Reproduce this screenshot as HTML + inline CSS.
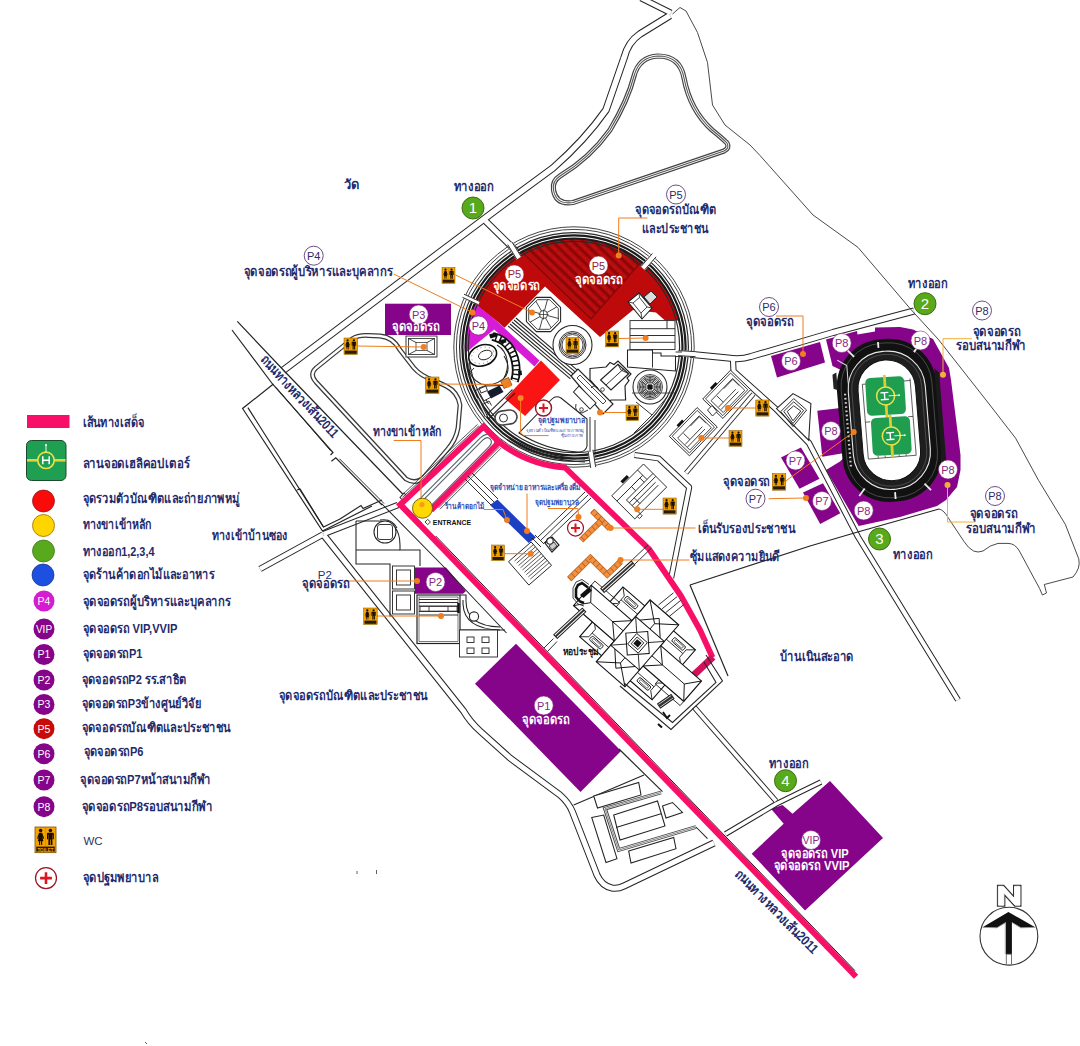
<!DOCTYPE html>
<html lang="th"><head><meta charset="utf-8"><title>Map</title><style>html,body{margin:0;padding:0;background:#fff;}body{width:1080px;height:1046px;overflow:hidden;font-family:"Liberation Sans",sans-serif;}svg{display:block;}</style></head><body>
<svg width="1080" height="1046" viewBox="0 0 1080 1046" font-family="'Liberation Sans', sans-serif"><g id="fill">
<rect x="27" y="415" width="42.5" height="13" fill="#f80f68"/>
<polygon points="475.0,683.7 516.0,643.7 621.0,751.0 580.5,792.0" fill="#86048a" stroke="none" stroke-width="1"/>
<polygon points="751.7,853.7 783.7,823.7 771.0,808.7 782.5,805.0 792.5,813.7 830.0,781.0 883.0,838.0 805.0,910.5" fill="#86048a" stroke="none" stroke-width="1"/>
<rect x="385" y="303.7" width="66" height="31.3" fill="#86048a"/>
<polygon points="415.0,567.5 446.0,567.5 466.0,591.0 463.0,593.7 415.0,593.7" fill="#86048a" stroke="none" stroke-width="1"/>
<polygon points="771.0,356.0 820.0,342.0 825.0,362.5 777.0,377.5" fill="#86048a" stroke="none" stroke-width="1"/>
<polygon points="781.0,457.5 801.0,447.5 819.5,478.7 799.5,488.7" fill="#86048a" stroke="none" stroke-width="1"/>
<polygon points="803.0,492.5 823.0,483.2 840.3,513.3 820.2,524.0" fill="#86048a" stroke="none" stroke-width="1"/>
<polygon points="817.3,410.8 840.3,407.9 844.6,453.1 822.3,456.7" fill="#86048a" stroke="none" stroke-width="1"/>
<circle cx="574.0" cy="347.0" r="121" fill="#fff"/>
<clipPath id="cin"><circle cx="574.0" cy="347.0" r="108.0"/></clipPath>
<g clip-path="url(#cin)">
<polygon points="440.0,200.0 472.0,302.0 497.0,321.3 504.5,327.8 545.0,286.5 600.0,337.0 633.0,310.0 656.0,312.5 665.0,320.6 720.0,320.6 720.0,200.0" fill="#bf0a0c" stroke="none" stroke-width="1"/>
<polygon points="522.0,252.0 591.0,319.0 641.0,262.0 620.0,200.0 522.0,200.0" fill="#b50c0e" stroke="none" stroke-width="1"/>
<clipPath id="cfan"><polygon points="522.0,252.0 591.0,319.0 641.0,262.0 620.0,200.0 522.0,200.0"/></clipPath><g clip-path="url(#cfan)">
<polyline points="504.9,225.5 604.9,322.5" fill="none" stroke="#8e0708" stroke-width="2.8"/>
<polyline points="507.3,223.1 607.3,320.1" fill="none" stroke="#c91719" stroke-width="0.9" stroke-dasharray="5 2"/>
<polyline points="509.9,220.3 609.9,317.3" fill="none" stroke="#8e0708" stroke-width="2.8"/>
<polyline points="512.3,217.9 612.3,314.9" fill="none" stroke="#c91719" stroke-width="0.9" stroke-dasharray="5 2"/>
<polyline points="514.9,215.2 614.9,312.2" fill="none" stroke="#8e0708" stroke-width="2.8"/>
<polyline points="517.3,212.8 617.3,309.8" fill="none" stroke="#c91719" stroke-width="0.9" stroke-dasharray="5 2"/>
<polyline points="519.9,210.0 619.9,307.0" fill="none" stroke="#8e0708" stroke-width="2.8"/>
<polyline points="522.3,207.6 622.3,304.6" fill="none" stroke="#c91719" stroke-width="0.9" stroke-dasharray="5 2"/>
<polyline points="525.0,204.8 625.0,301.8" fill="none" stroke="#8e0708" stroke-width="2.8"/>
<polyline points="527.4,202.4 627.4,299.4" fill="none" stroke="#c91719" stroke-width="0.9" stroke-dasharray="5 2"/>
<polyline points="530.0,199.7 630.0,296.7" fill="none" stroke="#8e0708" stroke-width="2.8"/>
<polyline points="532.4,197.3 632.4,294.3" fill="none" stroke="#c91719" stroke-width="0.9" stroke-dasharray="5 2"/>
<polyline points="535.0,194.5 635.0,291.5" fill="none" stroke="#8e0708" stroke-width="2.8"/>
<polyline points="537.4,192.1 637.4,289.1" fill="none" stroke="#c91719" stroke-width="0.9" stroke-dasharray="5 2"/>
<polyline points="540.0,189.3 640.0,286.3" fill="none" stroke="#8e0708" stroke-width="2.8"/>
<polyline points="542.4,186.9 642.4,283.9" fill="none" stroke="#c91719" stroke-width="0.9" stroke-dasharray="5 2"/>
<polyline points="545.0,184.2 645.0,281.2" fill="none" stroke="#8e0708" stroke-width="2.8"/>
<polyline points="547.4,181.8 647.4,278.8" fill="none" stroke="#c91719" stroke-width="0.9" stroke-dasharray="5 2"/>
<polyline points="550.0,179.0 650.0,276.0" fill="none" stroke="#8e0708" stroke-width="2.8"/>
<polyline points="552.4,176.6 652.4,273.6" fill="none" stroke="#c91719" stroke-width="0.9" stroke-dasharray="5 2"/>
<polyline points="555.1,173.9 655.1,270.9" fill="none" stroke="#8e0708" stroke-width="2.8"/>
<polyline points="557.5,171.5 657.5,268.5" fill="none" stroke="#c91719" stroke-width="0.9" stroke-dasharray="5 2"/>
<polyline points="560.1,168.7 660.1,265.7" fill="none" stroke="#8e0708" stroke-width="2.8"/>
<polyline points="562.5,166.3 662.5,263.3" fill="none" stroke="#c91719" stroke-width="0.9" stroke-dasharray="5 2"/>
<polyline points="565.1,163.5 665.1,260.5" fill="none" stroke="#8e0708" stroke-width="2.8"/>
<polyline points="567.5,161.1 667.5,258.1" fill="none" stroke="#c91719" stroke-width="0.9" stroke-dasharray="5 2"/>
</g>
<polyline points="522.0,252.0 591.0,319.0 641.0,262.0" fill="none" stroke="#8a0808" stroke-width="1.4"/>
</g>
<path d="M475.2 303.4 L497 321.3 L539.5 360.5 L534.5 366.5 L494.2 329.6 L466.1 352.4 A108.0 108.0 0 0 1 475.2 303.4 Z" fill="#d61cd6" stroke="none" stroke-width="0"/>
<polygon points="541.0,360.6 560.0,380.0 525.0,416.0 505.0,398.7" fill="#fb1414" stroke="none" stroke-width="1"/>
<polygon points="826.0,339.5 857.0,331.0 857.5,334.5 875.0,331.5 875.0,327.5 900.0,327.0 913.0,329.5 933.0,339.0 949.0,368.0 951.0,380.0 960.5,455.0 960.5,470.0 957.0,487.0 946.0,500.0 937.0,506.0 900.0,517.0 858.7,526.0 826.0,470.0 840.0,461.5 862.0,440.0 862.0,380.0 832.5,366.0" fill="#86048a" stroke="none" stroke-width="1"/>
</g>
<g id="road_o">
<path d="M283 370.5 L440 252 L500 207 L553 168 Q585 140 606 110 L624 58 Q628 42 640 34 L670 15.5" fill="none" stroke="#242424" stroke-width="7.5" stroke-linejoin="round"/>
<path d="M641 -2 L671 13" fill="none" stroke="#242424" stroke-width="6.5" stroke-linejoin="round"/>
<path d="M485.5 221 L516 251" fill="none" stroke="#242424" stroke-width="7.0" stroke-linejoin="round"/>
<path d="M260 569 L323 534.5" fill="none" stroke="#242424" stroke-width="6.5" stroke-linejoin="round"/>
<path d="M323.7 534 L398 505" fill="none" stroke="#242424" stroke-width="6.5" stroke-linejoin="round"/>
<path d="M316 382 Q309 374 316 368 L352 339 Q358 335 368 335.5 L380 336 Q393 337 400 350 L414 368 Q421 376 433 380 L446 386 Q458 392 460 405 L458 428 Q456 440 447 450 L424 477 Q416 485 406 479 Z" fill="none" stroke="#3a3a3a" stroke-width="4.8" stroke-linejoin="round"/>
<path d="M421 500 L481.5 439 Q487.5 433.5 491.5 438 Q495.5 442.5 490 448 L430 509" fill="none" stroke="#56646a" stroke-width="4.4" stroke-linejoin="round"/>
<path d="M690 354.2 L728 358 Q741 360 751 356.5 L833 332.5 L914 311" fill="none" stroke="#242424" stroke-width="7.0" stroke-linejoin="round"/>
<path d="M733 360 L733.5 371 L777 410 L809 443 L858 537 L958 700" fill="none" stroke="#242424" stroke-width="6.2" stroke-linejoin="round"/>
<path d="M753.5 394 L686 473" fill="none" stroke="#242424" stroke-width="5.0" stroke-linejoin="round"/>
<path d="M634.5 455 L658.7 458.4 L689.2 487.3 L671.2 578" fill="none" stroke="#242424" stroke-width="6.0" stroke-linejoin="round"/>
<path d="M694 707 L776 801" fill="none" stroke="#242424" stroke-width="5.6" stroke-linejoin="round"/>
<path d="M725.5 834 L776 804 L821 782" fill="none" stroke="#242424" stroke-width="5.6" stroke-linejoin="round"/>
<path d="M324 535.5 L463.5 711 Q470 722 480 731 L510 758 L560 795 Q569 803 572.5 812 L597 875 Q602 886 612 888 Q618 889 624 886 L714 843" fill="none" stroke="#242424" stroke-width="7.0" stroke-linejoin="round"/>
</g>
<g id="road_i">
<path d="M283 370.5 L440 252 L500 207 L553 168 Q585 140 606 110 L624 58 Q628 42 640 34 L670 15.5" fill="none" stroke="#fff" stroke-width="5.5" stroke-linejoin="round"/>
<path d="M641 -2 L671 13" fill="none" stroke="#fff" stroke-width="4.5" stroke-linejoin="round"/>
<path d="M485.5 221 L516 251" fill="none" stroke="#fff" stroke-width="5.0" stroke-linejoin="round"/>
<path d="M260 569 L323 534.5" fill="none" stroke="#fff" stroke-width="4.5" stroke-linejoin="round"/>
<path d="M323.7 534 L398 505" fill="none" stroke="#fff" stroke-width="4.5" stroke-linejoin="round"/>
<path d="M316 382 Q309 374 316 368 L352 339 Q358 335 368 335.5 L380 336 Q393 337 400 350 L414 368 Q421 376 433 380 L446 386 Q458 392 460 405 L458 428 Q456 440 447 450 L424 477 Q416 485 406 479 Z" fill="none" stroke="#fff" stroke-width="2.3" stroke-linejoin="round"/>
<path d="M421 500 L481.5 439 Q487.5 433.5 491.5 438 Q495.5 442.5 490 448 L430 509" fill="none" stroke="#fff" stroke-width="2.2" stroke-linejoin="round"/>
<path d="M690 354.2 L728 358 Q741 360 751 356.5 L833 332.5 L914 311" fill="none" stroke="#fff" stroke-width="5.0" stroke-linejoin="round"/>
<path d="M733 360 L733.5 371 L777 410 L809 443 L858 537 L958 700" fill="none" stroke="#fff" stroke-width="4.2" stroke-linejoin="round"/>
<path d="M753.5 394 L686 473" fill="none" stroke="#fff" stroke-width="3.2" stroke-linejoin="round"/>
<path d="M634.5 455 L658.7 458.4 L689.2 487.3 L671.2 578" fill="none" stroke="#fff" stroke-width="4.0" stroke-linejoin="round"/>
<path d="M694 707 L776 801" fill="none" stroke="#fff" stroke-width="3.6" stroke-linejoin="round"/>
<path d="M725.5 834 L776 804 L821 782" fill="none" stroke="#fff" stroke-width="3.6" stroke-linejoin="round"/>
<path d="M324 535.5 L463.5 711 Q470 722 480 731 L510 758 L560 795 Q569 803 572.5 812 L597 875 Q602 886 612 888 Q618 889 624 886 L714 843" fill="none" stroke="#fff" stroke-width="5.0" stroke-linejoin="round"/>
</g>
<g id="line">
<polyline points="237.3,321.4 285.7,372.5 402.7,494.0" fill="none" stroke="#242424" stroke-width="1.18"/>
<polyline points="232.0,330.0 272.5,384.0 333.0,452.5 330.5,455.0" fill="none" stroke="#242424" stroke-width="1.18"/>
<polyline points="276.0,387.4 330.5,450.7" fill="none" stroke="#242424" stroke-width="0.94"/>
<polyline points="331.4,461.3 335.8,457.8 382.0,505.0" fill="none" stroke="#242424" stroke-width="1.18"/>
<polyline points="339.4,458.7 384.0,503.5" fill="none" stroke="#242424" stroke-width="0.94"/>
<polyline points="273.4,384.0 242.6,408.5 322.5,531.0 372.0,506.0" fill="none" stroke="#242424" stroke-width="1.18"/>
<polyline points="247.9,407.6 323.5,527.0 340.0,519.0" fill="none" stroke="#242424" stroke-width="1.18"/>
<polyline points="297.0,490.0 300.0,489.0 323.5,527.0" fill="none" stroke="#242424" stroke-width="1.18"/>
<polyline points="340.0,519.0 361.0,505.5 363.0,508.5 382.0,500.0" fill="none" stroke="#242424" stroke-width="1.18"/>
<polygon points="400.0,497.5 404.0,493.0 408.5,498.0 404.5,502.0" fill="#fff" stroke="#242424" stroke-width="1.06"/>
<path d="M690 585 L810 546 L856 532.5 L939 509" fill="none" stroke="#242424" stroke-width="1.18"/>
<path d="M690 585 L728 676" fill="none" stroke="#242424" stroke-width="1.18"/>
<path d="M672.5 14 L680 7.5 L686 11 L697.5 32.5 L707.5 62.5 L712.5 105 L725 125 L750 145 L760 155.5 L813 215 L858 247.4 L911 309.6 L938 339 L986 400 L1015.6 438.2 L1038.5 480.3 L1065.3 524.3 L1078.7 558.7 Q1081 568 1073 577 L1044.3 584.5 L1046.5 593 L1042.4 595 L1039.5 588.3 L1032.8 576 L1019.4 551 Q1015 543.4 1008 543.4 L998 543.4 Q990 545 983 551 Q978 553 973.5 551 Q968 548 964 541.5 L948.7 518.5 Q944 510 939 509" fill="none" stroke="#333" stroke-width="0.89"/>
<path d="M553.5 190 Q552 181 560 176 Q590 158 610 130 Q628 100 634 76 Q639 57 658 56 Q680 56 684 78 Q690 110 712 130 Q722 138 727 143 Q730 148 724 151 L573 202.5 Q556 205 553.5 190 Z" fill="none" stroke="#444" stroke-width="5.19"/>
<path d="M553.5 190 Q552 181 560 176 Q590 158 610 130 Q628 100 634 76 Q639 57 658 56 Q680 56 684 78 Q690 110 712 130 Q722 138 727 143 Q730 148 724 151 L573 202.5 Q556 205 553.5 190 Z" fill="none" stroke="#fff" stroke-width="2.83"/>
<path d="M553.5 190 Q552 181 560 176 Q590 158 610 130 Q628 100 634 76 Q639 57 658 56 Q680 56 684 78 Q690 110 712 130 Q722 138 727 143 Q730 148 724 151 L573 202.5 Q556 205 553.5 190 Z" fill="none" stroke="#555" stroke-width="1.06"/>
<polyline points="573.7,805.0 644.0,775.0" fill="none" stroke="#242424" stroke-width="1.18"/>
<polyline points="619.0,749.0 662.5,791.6" fill="none" stroke="#242424" stroke-width="1.18"/>
<polygon points="593.7,796.0 638.7,782.5 641.0,795.0 597.5,808.0" fill="#fff" stroke="#242424" stroke-width="1.06"/>
<polygon points="613.7,815.0 657.5,801.0 665.0,826.0 620.0,840.0" fill="#fff" stroke="#242424" stroke-width="1.06"/>
<polygon points="591.7,817.5 603.7,815.0 617.0,858.7 606.0,862.5" fill="#fff" stroke="#242424" stroke-width="1.06"/>
<polygon points="628.7,851.0 673.7,837.5 676.0,848.7 631.0,863.0" fill="#fff" stroke="#242424" stroke-width="1.06"/>
<polygon points="662.5,806.0 672.5,802.5 682.5,812.5 666.0,818.0" fill="#fff" stroke="#242424" stroke-width="1.06"/>
<polyline points="616.0,827.5 661.0,813.7" fill="none" stroke="#242424" stroke-width="1.06"/>
<polyline points="661.0,792.5 605.0,808.7 618.7,850.0 696.0,827.0" fill="none" stroke="#444" stroke-width="3.78"/>
<polyline points="661.0,792.5 605.0,808.7 618.7,850.0 696.0,827.0" fill="none" stroke="#fff" stroke-width="1.89"/>
<polyline points="661.0,792.5 605.0,808.7 618.7,850.0 696.0,827.0" fill="none" stroke="#555" stroke-width="0.71"/>
<polyline points="696.0,827.0 707.5,838.7" fill="none" stroke="#242424" stroke-width="1.06"/>
<circle cx="574.0" cy="347.0" r="105.6" fill="none" stroke="#2a2a2a" stroke-width="1.2"/>
<circle cx="574.0" cy="347.0" r="108.5" fill="none" stroke="#1c1c1c" stroke-width="2.2"/>
<circle cx="574.0" cy="347.0" r="111.6" fill="none" stroke="#1c1c1c" stroke-width="2.2"/>
<circle cx="574.0" cy="347.0" r="114.4" fill="none" stroke="#2a2a2a" stroke-width="1.2"/>
<circle cx="574.0" cy="347.0" r="117.6" fill="none" stroke="#444" stroke-width="1.0"/>
<circle cx="574.0" cy="347.0" r="120.2" fill="none" stroke="#444" stroke-width="1.0"/>
<polyline points="519.0,258.1 509.8,243.2" fill="none" stroke="#fff" stroke-width="5.9"/>
<polyline points="521.2,256.8 511.9,241.9" fill="none" stroke="#242424" stroke-width="0.94"/>
<polyline points="516.9,259.4 507.7,244.6" fill="none" stroke="#242424" stroke-width="0.94"/>
<polyline points="642.7,268.3 654.3,255.1" fill="none" stroke="#fff" stroke-width="5.9"/>
<polyline points="644.6,269.9 656.1,256.8" fill="none" stroke="#242424" stroke-width="0.94"/>
<polyline points="640.9,266.7 652.4,253.5" fill="none" stroke="#242424" stroke-width="0.94"/>
<polyline points="678.3,353.1 695.8,354.2" fill="none" stroke="#fff" stroke-width="5.9"/>
<polyline points="678.2,355.6 695.6,356.7" fill="none" stroke="#242424" stroke-width="0.94"/>
<polyline points="678.5,350.6 695.9,351.7" fill="none" stroke="#242424" stroke-width="0.94"/>
<polyline points="590.4,450.2 593.2,467.5" fill="none" stroke="#fff" stroke-width="5.9"/>
<polyline points="588.0,450.6 590.7,467.9" fill="none" stroke="#242424" stroke-width="0.94"/>
<polyline points="592.9,449.8 595.7,467.1" fill="none" stroke="#242424" stroke-width="0.94"/>
<polyline points="479.1,303.2 463.3,295.8" fill="none" stroke="#fff" stroke-width="4.13"/>
<polyline points="479.9,301.6 464.0,294.2" fill="none" stroke="#242424" stroke-width="0.94"/>
<polyline points="478.4,304.7 462.5,297.4" fill="none" stroke="#242424" stroke-width="0.94"/>
<polyline points="357.0,871.0 357.0,874.0" fill="none" stroke="#555" stroke-width="0.94"/>
<polyline points="376.5,870.0 376.5,874.0" fill="none" stroke="#555" stroke-width="0.94"/>
<polyline points="145.0,1042.0 147.0,1044.0" fill="none" stroke="#555" stroke-width="0.94"/>
</g>
<g id="pink">
<polyline points="399.8,504.0 856.1,976.8" fill="none" stroke="#f80f68" stroke-width="5.9"/>
<polyline points="435.7,536.0 855.0,970.7" fill="none" stroke="#3c0c22" stroke-width="1.0"/>
<polyline points="402.4,497.4 478.9,425.8" fill="none" stroke="#2a2a2a" stroke-width="0.8"/>
<polyline points="499.6,446.8 438.6,507.8" fill="none" stroke="#2a2a2a" stroke-width="0.8"/>
<polyline points="401.0,496.0 477.5,424.4" fill="none" stroke="#2a2a2a" stroke-width="0.8"/>
<polyline points="501.0,448.2 440.0,509.2" fill="none" stroke="#2a2a2a" stroke-width="0.8"/>
<polyline points="420.0,524.8 400.2,504.6 483.5,426.6 499.1,442.1 431.0,510.2" fill="none" stroke="#f80f68" stroke-width="5.8" stroke-linejoin="miter"/>
<path d="M499.1 442.1 A120.5 120.5 0 0 0 565 467.5 L649 549 L681 596 L700 630 L712.5 657.5" fill="none" stroke="#f80f68" stroke-width="5.8" stroke-linejoin="round"/>
<polyline points="713.0,657.0 688.5,680.0" fill="none" stroke="#d4105c" stroke-width="7"/>
<polygon points="490.0,505.0 497.5,499.5 536.0,537.5 528.7,543.0" fill="#1c3fc4" stroke="none" stroke-width="1"/>
<polyline points="592.3,510.8 610.0,528.5" fill="none" stroke="#b5601c" stroke-width="6.1000000000000005" stroke-linejoin="miter"/>
<polyline points="592.3,510.8 610.0,528.5" fill="none" stroke="#f39040" stroke-width="4.7" stroke-linejoin="miter"/>
<polyline points="592.3,510.8 610.0,528.5" fill="none" stroke="#a85a1c" stroke-width="4.7" stroke-linejoin="miter" stroke-dasharray="0.7 4.3"/>
<polyline points="601.0,521.0 581.0,540.4" fill="none" stroke="#b5601c" stroke-width="6.1000000000000005" stroke-linejoin="miter"/>
<polyline points="601.0,521.0 581.0,540.4" fill="none" stroke="#f39040" stroke-width="4.7" stroke-linejoin="miter"/>
<polyline points="601.0,521.0 581.0,540.4" fill="none" stroke="#a85a1c" stroke-width="4.7" stroke-linejoin="miter" stroke-dasharray="0.7 4.3"/>
<polyline points="569.3,579.0 590.4,558.0 607.2,574.6 620.7,561.5" fill="none" stroke="#b5601c" stroke-width="6.1000000000000005" stroke-linejoin="miter"/>
<polyline points="569.3,579.0 590.4,558.0 607.2,574.6 620.7,561.5" fill="none" stroke="#f39040" stroke-width="4.7" stroke-linejoin="miter"/>
<polyline points="569.3,579.0 590.4,558.0 607.2,574.6 620.7,561.5" fill="none" stroke="#a85a1c" stroke-width="4.7" stroke-linejoin="miter" stroke-dasharray="0.7 4.3"/>
</g>
<g id="detail">
<polyline points="508.1,326.0 570.4,378.9" fill="none" stroke="#242424" stroke-width="1.06"/>
<polyline points="510.0,324.0 572.2,376.8" fill="none" stroke="#242424" stroke-width="1.06"/>
<polyline points="512.0,322.0 574.0,374.6" fill="none" stroke="#242424" stroke-width="1.06"/>
<polyline points="514.0,320.0 575.8,372.4" fill="none" stroke="#242424" stroke-width="1.06"/>
<polyline points="515.9,318.0 577.6,370.3" fill="none" stroke="#242424" stroke-width="1.06"/>
<polygon points="560.6,321.6 550.6,331.6 536.4,331.6 526.4,321.6 526.4,307.4 536.4,297.4 550.6,297.4 560.6,307.4" fill="#fff" stroke="#242424" stroke-width="1.06"/>
<polygon points="558.3,320.6 549.6,329.3 537.4,329.3 528.7,320.6 528.7,308.4 537.4,299.7 549.6,299.7 558.3,308.4" fill="none" stroke="#242424" stroke-width="0.83"/>
<polyline points="547.4,315.5 558.5,318.5" fill="none" stroke="#242424" stroke-width="0.83"/>
<polyline points="545.5,318.0 551.2,327.9" fill="none" stroke="#242424" stroke-width="0.83"/>
<polyline points="542.5,318.4 539.5,329.5" fill="none" stroke="#242424" stroke-width="0.83"/>
<polyline points="540.0,316.5 530.1,322.2" fill="none" stroke="#242424" stroke-width="0.83"/>
<polyline points="539.6,313.5 528.5,310.5" fill="none" stroke="#242424" stroke-width="0.83"/>
<polyline points="541.5,311.0 535.8,301.1" fill="none" stroke="#242424" stroke-width="0.83"/>
<polyline points="544.5,310.6 547.5,299.5" fill="none" stroke="#242424" stroke-width="0.83"/>
<polyline points="547.0,312.5 556.9,306.8" fill="none" stroke="#242424" stroke-width="0.83"/>
<circle cx="543.5" cy="314.5" r="4.0" fill="none" stroke="#242424" stroke-width="0.83"/>
<polyline points="538.5,314.5 548.5,314.5" fill="none" stroke="#242424" stroke-width="0.71"/>
<polyline points="543.5,309.5 543.5,319.5" fill="none" stroke="#242424" stroke-width="0.71"/>
<circle cx="572.5" cy="345.0" r="19.5" fill="#fff" stroke="#242424" stroke-width="1.06"/>
<circle cx="572.5" cy="345.0" r="13.5" fill="none" stroke="#242424" stroke-width="0.94"/>
<circle cx="572.5" cy="345.0" r="12.0" fill="none" stroke="#242424" stroke-width="0.94"/>
<circle cx="572.5" cy="345.0" r="10.5" fill="none" stroke="#242424" stroke-width="0.83"/>
<g transform="translate(566.0 337.5) scale(0.963)"><rect x="0" y="0" width="13.5" height="16.5" fill="#f4a300" stroke="#7a5200" stroke-width="0.5"/><rect x="0.8" y="12.6" width="11.9" height="3.2" fill="#2a1a00"/><path d="M6.75 0.6 V12.4" stroke="#c98a00" stroke-width="0.45"/><circle cx="3.6" cy="2.3" r="1.15" fill="#1a0d00"/><path d="M2.6 3.7 H4.6 L5.9 7.4 L5.2 7.6 L4.6 5.8 L5.4 9.2 H4.6 V11.6 H3.9 V9.2 H3.3 V11.6 H2.6 V9.2 H1.8 L2.6 5.8 L2 7.6 L1.3 7.4 Z" fill="#1a0d00"/><circle cx="9.9" cy="2.3" r="1.15" fill="#1a0d00"/><path d="M8.3 3.7 H11.5 Q12.1 3.7 12.1 4.4 V7.8 H11.4 V5 H11.2 V11.6 H10.1 V8 H9.7 V11.6 H8.6 V5 H8.4 V7.8 H7.7 V4.4 Q7.7 3.7 8.3 3.7 Z" fill="#1a0d00"/></g>
<circle cx="650.0" cy="387.0" r="17.0" fill="#fff" stroke="#242424" stroke-width="1.06"/>
<circle cx="650.0" cy="387.0" r="12.5" fill="none" stroke="#222" stroke-width="0.83"/>
<circle cx="650.0" cy="387.0" r="11.0" fill="none" stroke="#222" stroke-width="0.83"/>
<circle cx="650.0" cy="387.0" r="9.5" fill="none" stroke="#222" stroke-width="0.83"/>
<circle cx="650.0" cy="387.0" r="8.0" fill="none" stroke="#222" stroke-width="0.83"/>
<circle cx="650.0" cy="387.0" r="6.5" fill="none" stroke="#222" stroke-width="0.83"/>
<circle cx="650.0" cy="387.0" r="5.0" fill="none" stroke="#222" stroke-width="0.83"/>
<polyline points="650.0,387.0 661.0,387.0" fill="none" stroke="#222" stroke-width="0.71"/>
<polyline points="650.0,387.0 659.5,392.5" fill="none" stroke="#222" stroke-width="0.71"/>
<polyline points="650.0,387.0 655.5,396.5" fill="none" stroke="#222" stroke-width="0.71"/>
<polyline points="650.0,387.0 650.0,398.0" fill="none" stroke="#222" stroke-width="0.71"/>
<polyline points="650.0,387.0 644.5,396.5" fill="none" stroke="#222" stroke-width="0.71"/>
<polyline points="650.0,387.0 640.5,392.5" fill="none" stroke="#222" stroke-width="0.71"/>
<polyline points="650.0,387.0 639.0,387.0" fill="none" stroke="#222" stroke-width="0.71"/>
<polyline points="650.0,387.0 640.5,381.5" fill="none" stroke="#222" stroke-width="0.71"/>
<polyline points="650.0,387.0 644.5,377.5" fill="none" stroke="#222" stroke-width="0.71"/>
<polyline points="650.0,387.0 650.0,376.0" fill="none" stroke="#222" stroke-width="0.71"/>
<polyline points="650.0,387.0 655.5,377.5" fill="none" stroke="#222" stroke-width="0.71"/>
<polyline points="650.0,387.0 659.5,381.5" fill="none" stroke="#222" stroke-width="0.71"/>
<circle cx="650.0" cy="387.0" r="2.6" fill="#111" stroke="none" stroke-width="1.18"/>
<polyline points="632.0,393.0 675.0,393.0" fill="none" stroke="#333" stroke-width="0.83"/>
<polyline points="636.0,402.0 652.0,415.0 668.0,396.0" fill="none" stroke="#242424" stroke-width="0.94"/>
<polyline points="652.0,415.0 634.0,433.0" fill="none" stroke="#242424" stroke-width="0.94"/>
<polygon points="628.0,302.0 639.0,293.0 650.0,304.0 643.0,311.0 650.0,304.0 657.0,297.0 651.0,291.0 644.0,297.0" fill="none" stroke="#242424" stroke-width="0.94"/>
<polygon points="628.0,302.0 639.0,293.0 652.0,308.0 642.0,319.0" fill="#fff" stroke="#242424" stroke-width="1.06"/>
<polygon points="633.0,303.0 639.5,297.5 647.0,307.0 641.0,313.0" fill="none" stroke="#242424" stroke-width="0.83"/>
<polyline points="628.0,302.0 633.0,303.0" fill="none" stroke="#242424" stroke-width="0.83"/>
<polyline points="639.0,293.0 639.5,297.5" fill="none" stroke="#242424" stroke-width="0.83"/>
<polyline points="652.0,308.0 647.0,307.0" fill="none" stroke="#242424" stroke-width="0.83"/>
<polyline points="642.0,319.0 641.0,313.0" fill="none" stroke="#242424" stroke-width="0.83"/>
<polygon points="644.0,297.0 651.0,291.0 657.0,297.0 650.0,304.0" fill="#ddd" stroke="#242424" stroke-width="0.94"/>
<rect x="630" y="320.6" width="45" height="29" fill="#fff" stroke="#242424" stroke-width="0.9"/>
<polyline points="630.0,328.7 675.0,328.7" fill="none" stroke="#242424" stroke-width="0.94"/>
<polyline points="630.0,335.5 675.0,335.5" fill="none" stroke="#242424" stroke-width="0.94"/>
<polyline points="630.0,342.3 675.0,342.3" fill="none" stroke="#242424" stroke-width="0.94"/>
<polyline points="667.0,320.6 667.0,328.7" fill="none" stroke="#242424" stroke-width="0.94"/>
<polygon points="627.5,350.0 652.5,350.0 652.5,353.0 661.0,353.0 661.0,356.0 675.5,356.0 675.5,371.0 627.5,367.0" fill="#fff" stroke="#242424" stroke-width="1.06"/>
<polyline points="652.5,353.0 652.5,367.5" fill="none" stroke="#242424" stroke-width="0.94"/>
<polyline points="675.5,352.0 682.0,352.0" fill="none" stroke="#242424" stroke-width="0.94"/>
<polyline points="675.5,356.5 682.0,356.5" fill="none" stroke="#242424" stroke-width="0.94"/>
<polygon points="590.0,368.5 606.0,367.0 610.0,362.5 614.0,364.5 618.0,361.0 631.0,374.0 627.0,378.0 629.0,380.6 625.0,386.0 625.6,400.0 611.0,400.0 606.0,405.5 596.0,395.0 598.0,389.0 590.0,380.0" fill="#fff" stroke="#242424" stroke-width="1.18"/>
<polygon points="600.6,380.0 618.0,364.4 628.7,373.7 611.0,390.0" fill="#fff" stroke="#242424" stroke-width="1.18"/>
<polyline points="606.0,385.0 623.5,369.0" fill="none" stroke="#242424" stroke-width="0.94"/>
<polyline points="618.0,364.4 621.0,370.0 628.7,373.7" fill="none" stroke="#242424" stroke-width="0.94"/>
<circle cx="602.5" cy="389.5" r="1.8" fill="#fff" stroke="#242424" stroke-width="0.83"/>
<polygon points="571.0,376.0 578.0,369.0 613.0,404.0 603.0,414.0" fill="#fff" stroke="#242424" stroke-width="1.18"/>
<polygon points="577.0,378.0 580.0,375.0 606.0,401.0 603.0,404.0" fill="none" stroke="#242424" stroke-width="0.83"/>
<polygon points="573.5,392.0 579.0,386.0 596.0,403.0 590.0,409.0" fill="#fff" stroke="#242424" stroke-width="1.06"/>
<path d="M576 404 Q574 412 582 413 L588 410" fill="none" stroke="#242424" stroke-width="0.94"/>
<circle cx="581.5" cy="409.5" r="1.8" fill="#fff" stroke="#242424" stroke-width="0.83"/>
<path d="M591 388 Q594 384 598 388" fill="none" stroke="#242424" stroke-width="0.94"/>
<polyline points="590.0,417.0 590.0,452.0" fill="none" stroke="#242424" stroke-width="0.94"/>
<polyline points="595.0,420.0 595.0,452.0" fill="none" stroke="#242424" stroke-width="0.94"/>
<path d="M552 399 Q556 395 561 398 L587 419 L587 446 Q586 452 578 452 Q545 450 519 433 Z" fill="#fff" stroke="#242424" stroke-width="1.06"/>
<path d="M509 437 Q540 457 585 459" fill="none" stroke="#242424" stroke-width="1.06"/>
<path d="M507 439.5 Q540 460 585 462" fill="none" stroke="#242424" stroke-width="1.06"/>
<rect x="-11" y="-7" width="22" height="14" rx="7" transform="translate(506 417.5) rotate(-8)" fill="#fff" stroke="#444" stroke-width="1.6"/>
<circle cx="503.5" cy="418.0" r="4.0" fill="#fff" stroke="#242424" stroke-width="0.94"/>
<polyline points="477.5,398.5 486.3,416.5" fill="none" stroke="#333" stroke-width="3.07"/>
<polyline points="477.5,398.5 486.3,416.5" fill="none" stroke="#fff" stroke-width="1.06"/>
<polyline points="486.5,414.8 512.5,389.5" fill="none" stroke="#242424" stroke-width="1.06"/>
<polyline points="489.0,418.5 515.0,393.0" fill="none" stroke="#242424" stroke-width="1.06"/>
<g transform="translate(482.7 355.4) rotate(-20)"><ellipse cx="0" cy="0" rx="14.3" ry="10.3" fill="#fff" stroke="#111" stroke-width="1.6"/><ellipse cx="2.5" cy="0.5" rx="7" ry="4.4" fill="none" stroke="#222" stroke-width="0.9"/><ellipse cx="0" cy="0" rx="11.5" ry="7.8" fill="none" stroke="#333" stroke-width="0.7" stroke-dasharray="0.8 3.4"/></g>
<path d="M469.5 361 Q466 376 481 384 Q497 387 506 376 Q511 367 504 356" fill="none" stroke="#222" stroke-width="1.06"/>
<polyline points="468.0,374.5 474.0,368.0" fill="none" stroke="#222" stroke-width="0.94"/>
<path d="M492.5 336.5 Q509 340 514.5 358 Q518 371 514.5 381" fill="none" stroke="#111" stroke-width="8.73"/>
<path d="M492.5 336.5 Q509 340 514.5 358 Q518 371 514.5 381" fill="none" stroke="#fff" stroke-width="5.19" stroke-dasharray="3 1.5"/>
<path d="M497 345 Q506 350 507.5 362 Q508 371 504 378" fill="none" stroke="#222" stroke-width="1.06"/>
<polygon points="489.0,334.5 495.5,332.5 497.0,336.5 490.5,338.5" fill="#111" stroke="none" stroke-width="1.18"/>
<polygon points="499.5,340.0 505.5,339.0 506.5,342.5 500.5,343.5" fill="#111" stroke="none" stroke-width="1.18"/>
<polygon points="518.0,371.0 521.5,370.5 522.0,375.0 518.5,375.5" fill="#111" stroke="none" stroke-width="1.18"/>
<polygon points="500.5,381.0 508.5,377.5 512.0,385.0 504.0,388.5" fill="#f0862a" stroke="#7a3a10" stroke-width="0.71"/>
<polygon points="487.0,391.5 499.5,385.5 503.5,392.0 491.0,398.5" fill="#141c2c" stroke="none" stroke-width="1.18"/>
<polygon points="479.0,388.0 485.5,385.5 487.5,390.5 481.0,393.0" fill="#fff" stroke="#222" stroke-width="0.94"/>
<polyline points="474.0,391.0 486.0,386.0 503.0,385.5" fill="none" stroke="#222" stroke-width="0.94"/>
<polyline points="480.0,393.5 484.0,401.0 497.5,393.5" fill="none" stroke="#222" stroke-width="0.94"/>
<polyline points="482.5,404.5 489.0,401.0 491.5,405.5" fill="none" stroke="#222" stroke-width="0.94"/>
<polyline points="486.0,399.5 488.5,404.0" fill="none" stroke="#222" stroke-width="0.94"/>
<circle cx="543.5" cy="408.0" r="8.0" fill="#fff" stroke="#9c1628" stroke-width="1.47"/>
<path d="M542.5 403.5 h2.0 v3.5 h3.5 v2.0 h-3.5 v3.5 h-2.0 v-3.5 h-3.5 v-2.0 h3.5 z" fill="#e0141e"/>
<text x="538.0" y="423.3" font-size="8.6" font-weight="bold" fill="#3b4fae" textLength="47.0" lengthAdjust="spacingAndGlyphs">จุดปฐมพยาบาล</text>
<text x="526.0" y="431.5" font-size="4.6" fill="#3b4fae" textLength="58.1" lengthAdjust="spacingAndGlyphs">จุดรวมตัวบัณฑิตและถ่ายภาพหมู่</text>
<text x="561.0" y="437.3" font-size="4.6" fill="#3b4fae" textLength="22.0" lengthAdjust="spacingAndGlyphs">ซุ้มถ่ายภาพ</text>
<g transform="translate(889.3 420.3) rotate(-4.6)"><path d="M-49.8 -34.5 A47.0 47.0 0 0 1 -2.8 -81.5 L2.8 -81.5 A47.0 47.0 0 0 1 49.8 -34.5 L49.8 34.5 A47.0 47.0 0 0 1 2.8 81.5 L-2.8 81.5 A47.0 47.0 0 0 1 -49.8 34.5 Z" fill="#111"/><path d="M49 -48 L53.5 -44 L53.5 52 L49 58 Z" fill="#1a1a1a"/><path d="M-49 -52 L-53 -50 L-53 -36 L-49 -34 Z" fill="#222"/><path d="M-45.5 -34.5 A43.0 43.0 0 0 1 -2.5 -77.5 L2.5 -77.5 A43.0 43.0 0 0 1 45.5 -34.5 L45.5 34.5 A43.0 43.0 0 0 1 2.5 77.5 L-2.5 77.5 A43.0 43.0 0 0 1 -45.5 34.5 Z" fill="none" stroke="#555" stroke-width="0.8"/><path d="M-38.6 -31.7 A37.5 37.5 0 0 1 -1.1 -69.2 L1.1 -69.2 A37.5 37.5 0 0 1 38.6 -31.7 L38.6 31.7 A37.5 37.5 0 0 1 1.1 69.2 L-1.1 69.2 A37.5 37.5 0 0 1 -38.6 31.7 Z" fill="#1e1e1e" stroke="#e8e8e8" stroke-width="1.1"/><path d="M-35.0 -32.0 A34.0 34.0 0 0 1 -1.0 -66.0 L1.0 -66.0 A34.0 34.0 0 0 1 35.0 -32.0 L35.0 32.0 A34.0 34.0 0 0 1 1.0 66.0 L-1.0 66.0 A34.0 34.0 0 0 1 -35.0 32.0 Z" fill="none" stroke="#666" stroke-width="0.6"/><path d="M-28.8 -31.7 A28.8 28.8 0 0 1 -0.0 -60.5 L0.0 -60.5 A28.8 28.8 0 0 1 28.8 -31.7 L28.8 31.7 A28.8 28.8 0 0 1 0.0 60.5 L-0.0 60.5 A28.8 28.8 0 0 1 -28.8 31.7 Z" fill="#fff" stroke="#111" stroke-width="1"/><path d="M-30 -66 L-36 -73" stroke="#eee" stroke-width="1.8"/><path d="M30 -66 L36 -73" stroke="#eee" stroke-width="1.8"/><path d="M-30 66 L-36 73" stroke="#eee" stroke-width="1.8"/><path d="M30 66 L36 73" stroke="#eee" stroke-width="1.8"/><path d="M0 72 L0 79" stroke="#eee" stroke-width="1.8"/><path d="M-5 -73 L-5 -79" stroke="#eee" stroke-width="1.8"/><path d="M-42 -30 V45" stroke="#cfcfcf" stroke-width="2.2" stroke-dasharray="1.6 2.6"/><path d="M-47 -64 L-38 -58 L-38 -40" stroke="#ddd" stroke-width="1" fill="none"/><path d="M-24 -38 H24 M-24 -38 V37 M24 -40 V37 M-24 37 H24 M-24 0 H-19 M19 -2 H24" stroke="#222" stroke-width="0.7" fill="none"/><path d="M-14 37 v-2.5" stroke="#222" stroke-width="0.6"/><path d="M-7 37 v-2.5" stroke="#222" stroke-width="0.6"/><path d="M0 37 v-2.5" stroke="#222" stroke-width="0.6"/><path d="M7 37 v-2.5" stroke="#222" stroke-width="0.6"/><path d="M14 37 v-2.5" stroke="#222" stroke-width="0.6"/></g>
<g transform="translate(885.6 396) rotate(-3.5)"><rect x="-19.5" y="-19" width="39" height="38" rx="5" fill="#1f9e50"/><rect x="-1.4" y="-21" width="2.8" height="42.5" fill="#e6c92e"/><circle cx="0" cy="0" r="9" fill="#1f9e50" stroke="#e9e34c" stroke-width="1.5"/><path d="M-4 -3.4 H4 M-4 3.4 H4 M0 -3.4 V3.4" stroke="#fff" stroke-width="1.4" fill="none" transform="translate(-1 0)"/><path d="M3 0 H13" stroke="#fff" stroke-width="0.8"/><circle cx="13.5" cy="0" r="1" fill="#fff"/></g>
<g transform="translate(891.3 436) rotate(-3.5)"><rect x="-19.5" y="-19" width="39" height="38" rx="5" fill="#1f9e50"/><rect x="-1.4" y="-21" width="2.8" height="42.5" fill="#e6c92e"/><circle cx="0" cy="0" r="9" fill="#1f9e50" stroke="#e9e34c" stroke-width="1.5"/><path d="M-4 -3.4 H4 M-4 3.4 H4 M0 -3.4 V3.4" stroke="#fff" stroke-width="1.4" fill="none" transform="translate(-1 0)"/><path d="M3 0 H13" stroke="#fff" stroke-width="0.8"/><circle cx="13.5" cy="0" r="1" fill="#fff"/></g>
<g transform="translate(637.5 643.3) rotate(41)" fill="#fff" stroke="#111" stroke-width="1.1" stroke-linejoin="miter"><g transform="scale(-1 -1)"><rect x="17" y="11" width="31" height="22"/><path d="M48 11 L41 17 V27 L48 33 M17 22 H41" fill="none" stroke-width="0.8"/><rect x="24" y="24" width="15" height="5" rx="1.5" stroke-width="0.9"/><rect x="26" y="25.3" width="11" height="2.4" rx="1" stroke-width="0.6"/></g><g transform="scale(-1 1)"><rect x="17" y="11" width="31" height="22"/><path d="M48 11 L41 17 V27 L48 33 M17 22 H41" fill="none" stroke-width="0.8"/><rect x="24" y="24" width="15" height="5" rx="1.5" stroke-width="0.9"/><rect x="26" y="25.3" width="11" height="2.4" rx="1" stroke-width="0.6"/></g><g transform="scale(1 -1)"><rect x="17" y="11" width="31" height="22"/><path d="M48 11 L41 17 V27 L48 33 M17 22 H41" fill="none" stroke-width="0.8"/><rect x="24" y="24" width="15" height="5" rx="1.5" stroke-width="0.9"/><rect x="26" y="25.3" width="11" height="2.4" rx="1" stroke-width="0.6"/></g><g transform="scale(1 1)"><rect x="17" y="11" width="31" height="22"/><path d="M48 11 L41 17 V27 L48 33 M17 22 H41" fill="none" stroke-width="0.8"/><rect x="24" y="24" width="15" height="5" rx="1.5" stroke-width="0.9"/><rect x="26" y="25.3" width="11" height="2.4" rx="1" stroke-width="0.6"/></g><rect x="-19" y="-41" width="38" height="82"/><rect x="-73" y="-13.5" width="146" height="27"/><path d="M-73 -13.5 L-62 0 L-73 13.5 M73 -13.5 L62 0 L73 13.5 M-62 0 H62 M-19 -41 L0 -26 L19 -41 M-19 41 L0 26 L19 41 M0 -26 V26" fill="none" stroke-width="0.9"/><path d="M-19 -13.5 L-33 0 L-19 13.5 M19 -13.5 L33 0 L19 13.5 M-13.5 -19 L0 -33 L13.5 -19 M-13.5 19 L0 33 L13.5 19" fill="none" stroke-width="0.9"/><rect x="-19" y="-19" width="38" height="38" stroke-width="1"/><path d="M-19 -19 L19 19 M19 -19 L-19 19" fill="none" stroke-width="0.8"/><rect x="-11" y="-11" width="22" height="22" transform="rotate(45)" stroke-width="1"/><rect x="-7" y="-7" width="14" height="14" stroke-width="0.9"/><rect x="-4.5" y="-4.5" width="9" height="9" stroke-width="0.8"/><rect x="-2.4" y="-2.4" width="4.8" height="4.8" fill="#111"/><path d="M-73 -13.5 V-19 H-40 M73 13.5 V19 H40 M-40 -13.5 V-19 M40 13.5 V19" fill="none" stroke-width="0.8"/></g>
<path d="M589 584.5 L582 579.5 L576 582 L573 588 L573 598 L578 604 L584 606" fill="none" stroke="#333" stroke-width="0.94"/>
<path d="M588 587.5 L582 583 L578 585 L576 589 L576 597 L580 601.5 L584 603" fill="none" stroke="#111" stroke-width="2.6"/>
<polygon points="580.0,595.0 589.0,587.0 592.0,590.5 583.5,598.0" fill="#111" stroke="none" stroke-width="1.18"/>
<polygon points="557.2,638.3 585.7,611.8 582.3,608.2 553.8,634.7" fill="#fff" stroke="#222" stroke-width="1.06"/>
<polyline points="555.5,636.5 584.0,610.0" fill="none" stroke="#333" stroke-width="1.89"/>
<polygon points="604.2,592.4 634.7,564.9 631.3,561.1 600.8,588.6" fill="#fff" stroke="#222" stroke-width="1.06"/>
<polyline points="602.5,590.5 633.0,563.0" fill="none" stroke="#333" stroke-width="1.89"/>
<polygon points="660.4,708.0 673.9,698.5 671.1,694.5 657.6,704.0" fill="#fff" stroke="#222" stroke-width="1.06"/>
<polyline points="659.0,706.0 672.5,696.5" fill="none" stroke="#333" stroke-width="2.6"/>
<polyline points="544.0,648.0 553.5,638.5" fill="none" stroke="#242424" stroke-width="0.94"/>
<polyline points="547.5,651.5 557.0,641.5" fill="none" stroke="#242424" stroke-width="0.94"/>
<polyline points="631.0,561.0 648.0,545.0" fill="none" stroke="#242424" stroke-width="0.94"/>
<polyline points="634.5,564.5 651.0,548.5" fill="none" stroke="#242424" stroke-width="0.94"/>
<polyline points="658.5,605.0 673.5,592.8" fill="none" stroke="#242424" stroke-width="0.94"/>
<polyline points="662.1,608.8 677.1,596.6" fill="none" stroke="#242424" stroke-width="0.94"/>
<polyline points="665.7,612.6 680.7,600.4" fill="none" stroke="#242424" stroke-width="0.94"/>
<polyline points="669.3,616.4 684.3,604.2" fill="none" stroke="#242424" stroke-width="0.94"/>
<polyline points="620.0,686.0 671.0,729.5 722.5,681.0 706.0,655.0" fill="none" stroke="#242424" stroke-width="1.06"/>
<polyline points="624.0,683.0 672.5,722.5 716.0,682.5 704.0,662.0" fill="none" stroke="#242424" stroke-width="1.06"/>
<polyline points="663.0,712.0 667.0,718.0 670.0,715.0" fill="none" stroke="#111" stroke-width="1.77"/>
<polyline points="658.0,724.0 662.0,727.5" fill="none" stroke="#111" stroke-width="2.12"/>
<rect x="406" y="336" width="31" height="21" fill="#fff" stroke="#242424" stroke-width="0.9"/>
<rect x="408.5" y="338.5" width="26" height="16" fill="none" stroke="#242424" stroke-width="0.8"/>
<rect x="416" y="342.5" width="11" height="8" fill="none" stroke="#242424" stroke-width="0.7"/>
<polyline points="408.5,338.5 416.0,342.5" fill="none" stroke="#242424" stroke-width="0.83"/>
<polyline points="434.5,338.5 427.0,342.5" fill="none" stroke="#242424" stroke-width="0.83"/>
<polyline points="408.5,354.5 416.0,350.5" fill="none" stroke="#242424" stroke-width="0.83"/>
<polyline points="434.5,354.5 427.0,350.5" fill="none" stroke="#242424" stroke-width="0.83"/>
<rect x="-20.0" y="-14.0" width="40.0" height="28.0" transform="translate(726.7 394.3) rotate(-46.0)" fill="#fff" stroke="#242424" stroke-width="0.9"/>
<rect x="-18.0" y="-12.0" width="36.0" height="24.0" transform="translate(726.7 394.3) rotate(-46.0)" fill="none" stroke="#242424" stroke-width="0.8"/>
<rect x="-15.5" y="-8.5" width="31.0" height="17.0" transform="translate(727.9 395.5) rotate(-46.0)" fill="none" stroke="#242424" stroke-width="0.8"/>
<g transform="translate(726.7 394.3) rotate(-46)"><path d="M-15 3 H10 M-15 6.5 H10 M2 -6 H15 V3 M-8 -6 V3" fill="none" stroke="#222" stroke-width="0.8"/><rect x="-7" y="-16.5" width="8" height="2.8" fill="#111"/></g>
<rect x="-20.0" y="-14.0" width="40.0" height="28.0" transform="translate(693.3 431.7) rotate(-46.0)" fill="#fff" stroke="#242424" stroke-width="0.9"/>
<rect x="-18.0" y="-12.0" width="36.0" height="24.0" transform="translate(693.3 431.7) rotate(-46.0)" fill="none" stroke="#242424" stroke-width="0.8"/>
<rect x="-15.5" y="-8.5" width="31.0" height="17.0" transform="translate(694.5 432.9) rotate(-46.0)" fill="none" stroke="#242424" stroke-width="0.8"/>
<g transform="translate(693.3 431.7) rotate(-46)"><path d="M-15 3 H10 M-15 6.5 H10 M2 -6 H15 V3 M-8 -6 V3" fill="none" stroke="#222" stroke-width="0.8"/><rect x="-7" y="-16.5" width="8" height="2.8" fill="#111"/></g>
<polygon points="707.5,410.0 712.0,405.5 717.0,411.5 712.5,416.0" fill="#fff" stroke="#242424" stroke-width="0.94"/>
<rect x="-22.5" y="-16.4" width="45.0" height="32.7" transform="translate(639.2 491.5) rotate(-45.0)" fill="#fff" stroke="#242424" stroke-width="0.9"/>
<g transform="translate(639.2 491.5) rotate(-45)"><path d="M-22.5 -9 H14 M-15 -3 H22.5 M-15 1 H22.5 M-15 5 H18 M-15 9 H18 M-15 -3 V16.3 M14 -16.3 V-3 M-2 -9 V-3 M-8 1 V9 M2 -9 H10 V-3" fill="none" stroke="#222" stroke-width="0.9"/><rect x="-6" y="-20.5" width="9" height="3.2" fill="#111"/><rect x="-19" y="16.3" width="4" height="3" fill="#fff" stroke="#222" stroke-width="0.8"/></g>
<polygon points="776.5,408.6 793.0,393.6 810.9,403.6 808.7,440.2" fill="#fff" stroke="#242424" stroke-width="1.06"/>
<polygon points="780.8,411.5 793.7,398.6 806.6,410.0 793.0,426.6" fill="none" stroke="#242424" stroke-width="0.94"/>
<polygon points="783.8,411.5 793.7,401.8 803.6,410.5 793.0,423.5" fill="none" stroke="#242424" stroke-width="0.94"/>
<polygon points="787.2,411.5 793.7,405.8 800.8,411.0 793.0,420.8" fill="none" stroke="#242424" stroke-width="0.94"/>
<g transform="translate(530 563.5) rotate(-41)" fill="#fff" stroke="#242424" stroke-width="0.9"><rect x="-15" y="-15.5" width="30" height="31"/><path d="M-10 -12 H15" stroke-width="0.7"/><path d="M-10 -9 H15" stroke-width="0.7"/><path d="M-10 -6 H15" stroke-width="0.7"/><path d="M-10 -3 H15" stroke-width="0.7"/><path d="M-10 0 H15" stroke-width="0.7"/><path d="M-10 3 H15" stroke-width="0.7"/><path d="M-10 6 H15" stroke-width="0.7"/><path d="M-10 9 H15" stroke-width="0.7"/><path d="M-10 12 H15" stroke-width="0.7"/></g>
<polygon points="545.0,543.0 552.0,537.0 559.0,545.0 552.0,552.0" fill="#fff" stroke="#222" stroke-width="1.18"/>
<circle cx="550.0" cy="541.0" r="3.2" fill="#fff" stroke="#222" stroke-width="1.06"/>
<polygon points="549.0,546.0 554.0,542.0 557.0,546.0 552.0,550.0" fill="#ccc" stroke="#222" stroke-width="0.83"/>
<polyline points="541.0,540.0 588.0,495.0" fill="none" stroke="#242424" stroke-width="0.94"/>
<polyline points="544.0,543.0 591.0,498.0" fill="none" stroke="#242424" stroke-width="0.94"/>
<polyline points="538.0,537.0 585.0,492.0" fill="none" stroke="#242424" stroke-width="0.94"/>
<polyline points="468.0,476.0 494.0,502.0" fill="none" stroke="#242424" stroke-width="0.94"/>
<polyline points="472.0,473.0 498.0,499.0" fill="none" stroke="#242424" stroke-width="0.94"/>
<polyline points="465.0,479.0 491.0,505.0" fill="none" stroke="#242424" stroke-width="0.94"/>
<polyline points="532.0,538.0 541.0,547.0" fill="none" stroke="#242424" stroke-width="0.94"/>
<polyline points="535.0,535.0 544.0,544.0" fill="none" stroke="#242424" stroke-width="0.94"/>
<path d="M356 521 H378 Q400 521 400 545 V550 H420 V566 M356 521 V564 H390 V566" fill="none" stroke="#242424" stroke-width="1.06"/>
<polyline points="356.0,550.0 400.0,550.0" fill="none" stroke="#242424" stroke-width="1.06"/>
<circle cx="385.0" cy="532.0" r="11.0" fill="#fff" stroke="#242424" stroke-width="1.06"/>
<rect x="377.5" y="524.5" width="15" height="15" rx="2.5" fill="#fff" stroke="#242424" stroke-width="0.9"/>
<rect x="392.5" y="566" width="22" height="23" fill="#fff" stroke="#242424" stroke-width="0.9"/>
<rect x="396.5" y="570" width="14" height="15" fill="none" stroke="#242424" stroke-width="0.9"/>
<rect x="392.5" y="591" width="22" height="23" fill="#fff" stroke="#242424" stroke-width="0.9"/>
<rect x="396.5" y="595" width="14" height="15" fill="none" stroke="#242424" stroke-width="0.9"/>
<polyline points="390.0,566.0 390.0,616.0 392.5,616.0" fill="none" stroke="#242424" stroke-width="1.06"/>
<rect x="417" y="595" width="43" height="48.5" fill="#fff" stroke="#222" stroke-width="1.2"/>
<rect x="419" y="597" width="39" height="44.5" fill="none" stroke="#444" stroke-width="0.7"/>
<polyline points="419.0,599.5 458.0,599.5" fill="none" stroke="#222" stroke-width="0.94"/>
<polyline points="419.0,602.5 458.0,602.5" fill="none" stroke="#222" stroke-width="0.94"/>
<polyline points="419.0,606.0 458.0,606.0" fill="none" stroke="#222" stroke-width="0.94"/>
<polyline points="419.0,611.5 458.0,611.5" fill="none" stroke="#222" stroke-width="0.94"/>
<polyline points="419.0,615.0 458.0,615.0" fill="none" stroke="#222" stroke-width="0.94"/>
<rect x="420" y="606.5" width="37" height="4.6" fill="#fff" stroke="#222" stroke-width="0.8"/>
<polyline points="429.0,606.5 429.0,611.0" fill="none" stroke="#222" stroke-width="0.83"/>
<polyline points="448.0,606.5 448.0,611.0" fill="none" stroke="#222" stroke-width="0.83"/>
<polyline points="458.5,603.0 458.5,613.0" fill="none" stroke="#111" stroke-width="2.36"/>
<path d="M460 595 H466 V601 Q466 626 500 627" fill="none" stroke="#242424" stroke-width="1.06"/>
<path d="M463 600 V604 Q464 629 500 630" fill="none" stroke="#242424" stroke-width="1.06"/>
<circle cx="474.0" cy="616.5" r="4.6" fill="#fff" stroke="#242424" stroke-width="1.06"/>
<polyline points="460.0,630.0 505.0,630.0" fill="none" stroke="#242424" stroke-width="1.06"/>
<rect x="459.5" y="630" width="38" height="27" fill="#fff" stroke="#242424" stroke-width="0.9"/>
<rect x="467" y="637" width="7" height="5.5" fill="#fff" stroke="#242424" stroke-width="0.9"/>
<rect x="482" y="637" width="7" height="5.5" fill="#fff" stroke="#242424" stroke-width="0.9"/>
<rect x="467" y="648" width="7" height="5.5" fill="#fff" stroke="#242424" stroke-width="0.9"/>
<rect x="482" y="648" width="7" height="5.5" fill="#fff" stroke="#242424" stroke-width="0.9"/>
<polyline points="381.5,503.5 443.5,566.5 506.5,633.0" fill="none" stroke="#242424" stroke-width="1.06"/>
<path d="M380 520 Q392 518 397 528" fill="none" stroke="#242424" stroke-width="1.06"/>
</g>
<g id="leader">
<polyline points="393.7,274.0 472.5,312.5" fill="none" stroke="#f07d1e" stroke-width="1.0"/>
<circle cx="472.5" cy="312.5" r="3.0" fill="#f07d1e" stroke="none" stroke-width="1"/>
<polyline points="647.5,218.0 618.7,218.0 618.7,255.5" fill="none" stroke="#f07d1e" stroke-width="1.0"/>
<circle cx="618.7" cy="255.5" r="3.0" fill="#f07d1e" stroke="none" stroke-width="1"/>
<polyline points="776.0,316.0 803.0,316.0 803.0,354.0" fill="none" stroke="#f07d1e" stroke-width="1.0"/>
<circle cx="803.0" cy="354.0" r="3.0" fill="#f07d1e" stroke="none" stroke-width="1"/>
<polyline points="971.8,338.7 943.0,338.7 943.0,374.8" fill="none" stroke="#f2b035" stroke-width="1.0"/>
<circle cx="943.0" cy="374.8" r="3.0" fill="#f2b035" stroke="none" stroke-width="1"/>
<polyline points="947.5,485.0 947.5,522.0 975.0,522.0" fill="none" stroke="#f2b035" stroke-width="1.0"/>
<circle cx="947.5" cy="485.0" r="3.0" fill="#f2b035" stroke="none" stroke-width="1"/>
<polyline points="768.7,498.7 806.0,498.0" fill="none" stroke="#f07d1e" stroke-width="1.0"/>
<circle cx="806.0" cy="498.0" r="3.0" fill="#f07d1e" stroke="none" stroke-width="1"/>
<polyline points="785.7,481.0 853.7,432.0" fill="none" stroke="#f07d1e" stroke-width="1.0"/>
<circle cx="853.7" cy="432.0" r="3.0" fill="#f07d1e" stroke="none" stroke-width="1"/>
<polyline points="393.7,440.5 421.0,440.5 421.0,503.7" fill="none" stroke="#f07d1e" stroke-width="1.0"/>
<polyline points="343.7,581.0 417.0,581.0" fill="none" stroke="#f07d1e" stroke-width="1.0"/>
<circle cx="417.0" cy="581.0" r="3.0" fill="#f07d1e" stroke="none" stroke-width="1"/>
<polyline points="377.0,616.0 441.0,616.0" fill="none" stroke="#f07d1e" stroke-width="1.0"/>
<circle cx="441.0" cy="616.0" r="3.0" fill="#f07d1e" stroke="none" stroke-width="1"/>
<polyline points="610.7,528.0 695.5,528.0" fill="none" stroke="#f07d1e" stroke-width="1.0"/>
<circle cx="610.7" cy="528.0" r="3.0" fill="#f07d1e" stroke="none" stroke-width="1"/>
<polyline points="620.5,560.0 689.5,560.0" fill="none" stroke="#f07d1e" stroke-width="1.0"/>
<circle cx="620.5" cy="560.0" r="3.0" fill="#f07d1e" stroke="none" stroke-width="1"/>
<path d="M520.6 398 V431 Q520.6 435.6 526 435.6 H548.7" fill="none" stroke="#f07d1e" stroke-width="1"/>
<circle cx="520.6" cy="398.0" r="3.0" fill="#f58a2a" stroke="none" stroke-width="1"/>
<polyline points="455.6,275.0 532.0,312.5" fill="none" stroke="#f07d1e" stroke-width="1.0"/>
<circle cx="532.0" cy="312.5" r="3.0" fill="#f07d1e" stroke="none" stroke-width="1"/>
<polyline points="357.5,346.0 423.7,347.0" fill="none" stroke="#f07d1e" stroke-width="1.0"/>
<circle cx="423.7" cy="347.0" r="3.0" fill="#f07d1e" stroke="none" stroke-width="1"/>
<polyline points="439.0,384.0 508.0,384.5" fill="none" stroke="#f07d1e" stroke-width="1.0"/>
<circle cx="508.0" cy="384.5" r="3.0" fill="#f07d1e" stroke="none" stroke-width="1"/>
<polyline points="618.7,338.5 645.6,338.0" fill="none" stroke="#f07d1e" stroke-width="1.0"/>
<circle cx="645.6" cy="338.0" r="3.0" fill="#f07d1e" stroke="none" stroke-width="1"/>
<polyline points="626.0,412.5 600.0,412.5" fill="none" stroke="#f07d1e" stroke-width="1.0"/>
<circle cx="600.0" cy="412.5" r="3.0" fill="#f07d1e" stroke="none" stroke-width="1"/>
<polyline points="484.0,509.5 503.0,509.5 507.0,520.0" fill="none" stroke="#f07d1e" stroke-width="1.0"/>
<circle cx="507.0" cy="520.0" r="3.0" fill="#f07d1e" stroke="none" stroke-width="1"/>
<polyline points="527.0,493.5 527.0,531.0" fill="none" stroke="#f07d1e" stroke-width="1.0"/>
<circle cx="527.0" cy="531.0" r="3.0" fill="#f07d1e" stroke="none" stroke-width="1"/>
<polyline points="548.0,508.5 578.0,508.5 578.5,517.0" fill="none" stroke="#f07d1e" stroke-width="1.0"/>
<circle cx="578.5" cy="517.0" r="3.0" fill="#f07d1e" stroke="none" stroke-width="1"/>
<polyline points="504.5,553.7 530.7,553.7" fill="none" stroke="#f07d1e" stroke-width="1.0"/>
<circle cx="530.7" cy="553.7" r="3.0" fill="#f07d1e" stroke="none" stroke-width="1"/>
<polyline points="755.8,408.0 728.0,408.0" fill="none" stroke="#f07d1e" stroke-width="1.0"/>
<circle cx="728.0" cy="408.0" r="3.0" fill="#f07d1e" stroke="none" stroke-width="1"/>
<polyline points="729.0,438.0 701.3,438.0" fill="none" stroke="#f07d1e" stroke-width="1.0"/>
<circle cx="701.3" cy="438.0" r="3.0" fill="#f07d1e" stroke="none" stroke-width="1"/>
<polyline points="663.0,509.3 637.2,509.3" fill="none" stroke="#f07d1e" stroke-width="1.0"/>
<circle cx="637.2" cy="509.3" r="3.0" fill="#f07d1e" stroke="none" stroke-width="1"/>
</g>
<g id="icon">
<g transform="translate(26 440)"><rect x="0.5" y="0.5" width="39.5" height="40" rx="5" fill="#1f9f52" stroke="#1c4a2c" stroke-width="1"/><rect x="1" y="19" width="38.5" height="2.6" fill="#e6d23a"/><circle cx="20" cy="20.3" r="8.2" fill="#1f9f52" stroke="#ece24a" stroke-width="1.6"/><path d="M16.8 16.3 V24.3 M23.2 16.3 V24.3 M16.8 20.3 H23.2" stroke="#fff" stroke-width="1.5" fill="none"/><path d="M20 12 V5" stroke="#fff" stroke-width="0.9"/><circle cx="20" cy="5" r="1" fill="#fff"/></g>
<circle cx="43.5" cy="501.0" r="11.0" fill="#fb0a0a" stroke="#8a1010" stroke-width="0.7"/>
<circle cx="43.5" cy="525.5" r="11.0" fill="#ffd500" stroke="#a06a00" stroke-width="0.8"/>
<circle cx="43.5" cy="551.0" r="11.0" fill="#59a91c" stroke="#3c6e14" stroke-width="0.7"/>
<circle cx="43.0" cy="575.0" r="11.0" fill="#1d50e0" stroke="#1a2f80" stroke-width="0.7"/>
<circle cx="44.0" cy="601.0" r="10.5" fill="#d41cd0" stroke="none" stroke-width="1"/>
<text x="44.0" y="604.8" font-size="10.5" fill="#fff" text-anchor="middle" font-weight="normal">P4</text>
<circle cx="44.0" cy="629.0" r="10.5" fill="#86048a" stroke="none" stroke-width="1"/>
<text x="44.0" y="632.6" font-size="10" fill="#fff" text-anchor="middle" font-weight="normal">VIP</text>
<circle cx="44.0" cy="654.5" r="10.5" fill="#86048a" stroke="none" stroke-width="1"/>
<text x="44.0" y="658.3" font-size="10.5" fill="#fff" text-anchor="middle" font-weight="normal">P1</text>
<circle cx="44.0" cy="680.0" r="10.5" fill="#86048a" stroke="none" stroke-width="1"/>
<text x="44.0" y="683.8" font-size="10.5" fill="#fff" text-anchor="middle" font-weight="normal">P2</text>
<circle cx="44.0" cy="704.5" r="10.5" fill="#86048a" stroke="none" stroke-width="1"/>
<text x="44.0" y="708.3" font-size="10.5" fill="#fff" text-anchor="middle" font-weight="normal">P3</text>
<circle cx="44.0" cy="728.7" r="10.5" fill="#c80a0a" stroke="none" stroke-width="1"/>
<text x="44.0" y="732.5" font-size="10.5" fill="#fff" text-anchor="middle" font-weight="normal">P5</text>
<circle cx="44.0" cy="753.7" r="10.5" fill="#86048a" stroke="none" stroke-width="1"/>
<text x="44.0" y="757.5" font-size="10.5" fill="#fff" text-anchor="middle" font-weight="normal">P6</text>
<circle cx="44.0" cy="780.0" r="10.5" fill="#86048a" stroke="none" stroke-width="1"/>
<text x="44.0" y="783.8" font-size="10.5" fill="#fff" text-anchor="middle" font-weight="normal">P7</text>
<circle cx="44.0" cy="806.7" r="10.5" fill="#86048a" stroke="none" stroke-width="1"/>
<text x="44.0" y="810.5" font-size="10.5" fill="#fff" text-anchor="middle" font-weight="normal">P8</text>
<g transform="translate(35.0 827.0) scale(1.556)"><rect x="0" y="0" width="13.5" height="16.5" fill="#f4a300" stroke="#7a5200" stroke-width="0.5"/><rect x="0.8" y="12.6" width="11.9" height="3.2" fill="#2a1a00"/><path d="M6.75 0.6 V12.4" stroke="#c98a00" stroke-width="0.45"/><circle cx="3.6" cy="2.3" r="1.15" fill="#1a0d00"/><path d="M2.6 3.7 H4.6 L5.9 7.4 L5.2 7.6 L4.6 5.8 L5.4 9.2 H4.6 V11.6 H3.9 V9.2 H3.3 V11.6 H2.6 V9.2 H1.8 L2.6 5.8 L2 7.6 L1.3 7.4 Z" fill="#1a0d00"/><circle cx="9.9" cy="2.3" r="1.15" fill="#1a0d00"/><path d="M8.3 3.7 H11.5 Q12.1 3.7 12.1 4.4 V7.8 H11.4 V5 H11.2 V11.6 H10.1 V8 H9.7 V11.6 H8.6 V5 H8.4 V7.8 H7.7 V4.4 Q7.7 3.7 8.3 3.7 Z" fill="#1a0d00"/></g>
<text x="45.5" y="852.3" font-size="4.6" fill="#f4a300" text-anchor="middle" font-weight="bold">TOILET</text>
<circle cx="46.0" cy="878.1" r="10.5" fill="#fff" stroke="#9c1628" stroke-width="1.25"/>
<path d="M44.7 872.2 h2.6 v4.6 h4.6 v2.6 h-4.6 v4.6 h-2.6 v-4.6 h-4.6 v-2.6 h4.6 z" fill="#e0141e"/>
<circle cx="473.0" cy="208.0" r="11.0" fill="#59a91c" stroke="#3c6e14" stroke-width="1"/>
<text x="473.0" y="213.4" font-size="15" fill="#fff" text-anchor="middle" font-weight="normal">1</text>
<circle cx="925.0" cy="303.7" r="11.0" fill="#59a91c" stroke="#3c6e14" stroke-width="1"/>
<text x="925.0" y="309.1" font-size="15" fill="#fff" text-anchor="middle" font-weight="normal">2</text>
<circle cx="879.5" cy="539.0" r="11.0" fill="#59a91c" stroke="#3c6e14" stroke-width="1"/>
<text x="879.5" y="544.4" font-size="15" fill="#fff" text-anchor="middle" font-weight="normal">3</text>
<circle cx="785.5" cy="780.7" r="11.0" fill="#59a91c" stroke="#3c6e14" stroke-width="1"/>
<text x="785.5" y="786.1" font-size="15" fill="#fff" text-anchor="middle" font-weight="normal">4</text>
<circle cx="313.7" cy="255.7" r="9.5" fill="#fff" stroke="#5b3a7a" stroke-width="0.9"/>
<text x="313.7" y="259.7" font-size="11" fill="#2c2c66" text-anchor="middle" font-weight="normal">P4</text>
<circle cx="418.7" cy="314.5" r="9.5" fill="#fff" stroke="#86287f" stroke-width="0.6"/>
<text x="418.7" y="318.5" font-size="11" fill="#86287f" text-anchor="middle" font-weight="normal">P3</text>
<circle cx="676.0" cy="194.5" r="9.5" fill="#fff" stroke="#5b3a7a" stroke-width="0.9"/>
<text x="676.0" y="198.5" font-size="11" fill="#2c2c66" text-anchor="middle" font-weight="normal">P5</text>
<circle cx="769.0" cy="307.0" r="9.5" fill="#fff" stroke="#5b3a7a" stroke-width="0.9"/>
<text x="769.0" y="311.0" font-size="11" fill="#2c2c66" text-anchor="middle" font-weight="normal">P6</text>
<circle cx="791.0" cy="361.0" r="9.5" fill="#fff" stroke="#86287f" stroke-width="0.6"/>
<text x="791.0" y="365.0" font-size="11" fill="#86287f" text-anchor="middle" font-weight="normal">P6</text>
<circle cx="982.0" cy="310.5" r="9.5" fill="#fff" stroke="#5b3a7a" stroke-width="0.9"/>
<text x="982.0" y="314.5" font-size="11" fill="#2c2c66" text-anchor="middle" font-weight="normal">P8</text>
<circle cx="995.0" cy="496.0" r="9.5" fill="#fff" stroke="#5b3a7a" stroke-width="0.9"/>
<text x="995.0" y="500.0" font-size="11" fill="#2c2c66" text-anchor="middle" font-weight="normal">P8</text>
<circle cx="755.5" cy="498.7" r="9.5" fill="#fff" stroke="#5b3a7a" stroke-width="0.9"/>
<text x="755.5" y="502.7" font-size="11" fill="#2c2c66" text-anchor="middle" font-weight="normal">P7</text>
<g transform="translate(772.3 473.7) scale(1.000)"><rect x="0" y="0" width="13.5" height="16.5" fill="#f4a300" stroke="#7a5200" stroke-width="0.5"/><rect x="0.8" y="12.6" width="11.9" height="3.2" fill="#2a1a00"/><path d="M6.75 0.6 V12.4" stroke="#c98a00" stroke-width="0.45"/><circle cx="3.6" cy="2.3" r="1.15" fill="#1a0d00"/><path d="M2.6 3.7 H4.6 L5.9 7.4 L5.2 7.6 L4.6 5.8 L5.4 9.2 H4.6 V11.6 H3.9 V9.2 H3.3 V11.6 H2.6 V9.2 H1.8 L2.6 5.8 L2 7.6 L1.3 7.4 Z" fill="#1a0d00"/><circle cx="9.9" cy="2.3" r="1.15" fill="#1a0d00"/><path d="M8.3 3.7 H11.5 Q12.1 3.7 12.1 4.4 V7.8 H11.4 V5 H11.2 V11.6 H10.1 V8 H9.7 V11.6 H8.6 V5 H8.4 V7.8 H7.7 V4.4 Q7.7 3.7 8.3 3.7 Z" fill="#1a0d00"/></g>
<circle cx="795.5" cy="460.5" r="9.5" fill="#fff" stroke="#86287f" stroke-width="0.6"/>
<text x="795.5" y="464.5" font-size="11" fill="#86287f" text-anchor="middle" font-weight="normal">P7</text>
<circle cx="822.0" cy="501.0" r="9.5" fill="#fff" stroke="#86287f" stroke-width="0.6"/>
<text x="822.0" y="505.0" font-size="11" fill="#86287f" text-anchor="middle" font-weight="normal">P7</text>
<circle cx="831.0" cy="431.0" r="9.5" fill="#fff" stroke="#86287f" stroke-width="0.6"/>
<text x="831.0" y="435.0" font-size="11" fill="#86287f" text-anchor="middle" font-weight="normal">P8</text>
<circle cx="841.7" cy="343.0" r="9.5" fill="#fff" stroke="#86287f" stroke-width="0.6"/>
<text x="841.7" y="347.0" font-size="11" fill="#86287f" text-anchor="middle" font-weight="normal">P8</text>
<circle cx="920.5" cy="340.5" r="9.5" fill="#fff" stroke="#86287f" stroke-width="0.6"/>
<text x="920.5" y="344.5" font-size="11" fill="#86287f" text-anchor="middle" font-weight="normal">P8</text>
<circle cx="948.0" cy="469.5" r="9.5" fill="#fff" stroke="#86287f" stroke-width="0.6"/>
<text x="948.0" y="473.5" font-size="11" fill="#86287f" text-anchor="middle" font-weight="normal">P8</text>
<circle cx="863.7" cy="510.5" r="9.5" fill="#fff" stroke="#86287f" stroke-width="0.6"/>
<text x="863.7" y="514.5" font-size="11" fill="#86287f" text-anchor="middle" font-weight="normal">P8</text>
<circle cx="435.5" cy="582.0" r="9.5" fill="#fff" stroke="#86287f" stroke-width="0.6"/>
<text x="435.5" y="586.0" font-size="11" fill="#86287f" text-anchor="middle" font-weight="normal">P2</text>
<g transform="translate(363.7 608.0) scale(1.000)"><rect x="0" y="0" width="13.5" height="16.5" fill="#f4a300" stroke="#7a5200" stroke-width="0.5"/><rect x="0.8" y="12.6" width="11.9" height="3.2" fill="#2a1a00"/><path d="M6.75 0.6 V12.4" stroke="#c98a00" stroke-width="0.45"/><circle cx="3.6" cy="2.3" r="1.15" fill="#1a0d00"/><path d="M2.6 3.7 H4.6 L5.9 7.4 L5.2 7.6 L4.6 5.8 L5.4 9.2 H4.6 V11.6 H3.9 V9.2 H3.3 V11.6 H2.6 V9.2 H1.8 L2.6 5.8 L2 7.6 L1.3 7.4 Z" fill="#1a0d00"/><circle cx="9.9" cy="2.3" r="1.15" fill="#1a0d00"/><path d="M8.3 3.7 H11.5 Q12.1 3.7 12.1 4.4 V7.8 H11.4 V5 H11.2 V11.6 H10.1 V8 H9.7 V11.6 H8.6 V5 H8.4 V7.8 H7.7 V4.4 Q7.7 3.7 8.3 3.7 Z" fill="#1a0d00"/></g>
<circle cx="543.7" cy="705.5" r="9.5" fill="#fff" stroke="#86287f" stroke-width="0.6"/>
<text x="543.7" y="709.5" font-size="11" fill="#86287f" text-anchor="middle" font-weight="normal">P1</text>
<circle cx="811.0" cy="840.0" r="9.5" fill="#fff" stroke="#7a2a7a" stroke-width="0.6"/>
<text x="811.0" y="844.0" font-size="10.5" fill="#8a2a86" text-anchor="middle" font-weight="normal">VIP</text>
<circle cx="422.5" cy="508.2" r="10.0" fill="#ffd800" stroke="#6a5a00" stroke-width="0.9"/>
<circle cx="422.0" cy="504.5" r="2.6" fill="#f59a1a" stroke="none" stroke-width="1"/>
<g transform="translate(442.0 267.5) scale(0.963)"><rect x="0" y="0" width="13.5" height="16.5" fill="#f4a300" stroke="#7a5200" stroke-width="0.5"/><rect x="0.8" y="12.6" width="11.9" height="3.2" fill="#2a1a00"/><path d="M6.75 0.6 V12.4" stroke="#c98a00" stroke-width="0.45"/><circle cx="3.6" cy="2.3" r="1.15" fill="#1a0d00"/><path d="M2.6 3.7 H4.6 L5.9 7.4 L5.2 7.6 L4.6 5.8 L5.4 9.2 H4.6 V11.6 H3.9 V9.2 H3.3 V11.6 H2.6 V9.2 H1.8 L2.6 5.8 L2 7.6 L1.3 7.4 Z" fill="#1a0d00"/><circle cx="9.9" cy="2.3" r="1.15" fill="#1a0d00"/><path d="M8.3 3.7 H11.5 Q12.1 3.7 12.1 4.4 V7.8 H11.4 V5 H11.2 V11.6 H10.1 V8 H9.7 V11.6 H8.6 V5 H8.4 V7.8 H7.7 V4.4 Q7.7 3.7 8.3 3.7 Z" fill="#1a0d00"/></g>
<g transform="translate(344.0 338.0) scale(1.000)"><rect x="0" y="0" width="13.5" height="16.5" fill="#f4a300" stroke="#7a5200" stroke-width="0.5"/><rect x="0.8" y="12.6" width="11.9" height="3.2" fill="#2a1a00"/><path d="M6.75 0.6 V12.4" stroke="#c98a00" stroke-width="0.45"/><circle cx="3.6" cy="2.3" r="1.15" fill="#1a0d00"/><path d="M2.6 3.7 H4.6 L5.9 7.4 L5.2 7.6 L4.6 5.8 L5.4 9.2 H4.6 V11.6 H3.9 V9.2 H3.3 V11.6 H2.6 V9.2 H1.8 L2.6 5.8 L2 7.6 L1.3 7.4 Z" fill="#1a0d00"/><circle cx="9.9" cy="2.3" r="1.15" fill="#1a0d00"/><path d="M8.3 3.7 H11.5 Q12.1 3.7 12.1 4.4 V7.8 H11.4 V5 H11.2 V11.6 H10.1 V8 H9.7 V11.6 H8.6 V5 H8.4 V7.8 H7.7 V4.4 Q7.7 3.7 8.3 3.7 Z" fill="#1a0d00"/></g>
<g transform="translate(425.5 377.0) scale(1.000)"><rect x="0" y="0" width="13.5" height="16.5" fill="#f4a300" stroke="#7a5200" stroke-width="0.5"/><rect x="0.8" y="12.6" width="11.9" height="3.2" fill="#2a1a00"/><path d="M6.75 0.6 V12.4" stroke="#c98a00" stroke-width="0.45"/><circle cx="3.6" cy="2.3" r="1.15" fill="#1a0d00"/><path d="M2.6 3.7 H4.6 L5.9 7.4 L5.2 7.6 L4.6 5.8 L5.4 9.2 H4.6 V11.6 H3.9 V9.2 H3.3 V11.6 H2.6 V9.2 H1.8 L2.6 5.8 L2 7.6 L1.3 7.4 Z" fill="#1a0d00"/><circle cx="9.9" cy="2.3" r="1.15" fill="#1a0d00"/><path d="M8.3 3.7 H11.5 Q12.1 3.7 12.1 4.4 V7.8 H11.4 V5 H11.2 V11.6 H10.1 V8 H9.7 V11.6 H8.6 V5 H8.4 V7.8 H7.7 V4.4 Q7.7 3.7 8.3 3.7 Z" fill="#1a0d00"/></g>
<g transform="translate(605.6 331.0) scale(0.963)"><rect x="0" y="0" width="13.5" height="16.5" fill="#f4a300" stroke="#7a5200" stroke-width="0.5"/><rect x="0.8" y="12.6" width="11.9" height="3.2" fill="#2a1a00"/><path d="M6.75 0.6 V12.4" stroke="#c98a00" stroke-width="0.45"/><circle cx="3.6" cy="2.3" r="1.15" fill="#1a0d00"/><path d="M2.6 3.7 H4.6 L5.9 7.4 L5.2 7.6 L4.6 5.8 L5.4 9.2 H4.6 V11.6 H3.9 V9.2 H3.3 V11.6 H2.6 V9.2 H1.8 L2.6 5.8 L2 7.6 L1.3 7.4 Z" fill="#1a0d00"/><circle cx="9.9" cy="2.3" r="1.15" fill="#1a0d00"/><path d="M8.3 3.7 H11.5 Q12.1 3.7 12.1 4.4 V7.8 H11.4 V5 H11.2 V11.6 H10.1 V8 H9.7 V11.6 H8.6 V5 H8.4 V7.8 H7.7 V4.4 Q7.7 3.7 8.3 3.7 Z" fill="#1a0d00"/></g>
<g transform="translate(626.0 405.0) scale(0.941)"><rect x="0" y="0" width="13.5" height="16.5" fill="#f4a300" stroke="#7a5200" stroke-width="0.5"/><rect x="0.8" y="12.6" width="11.9" height="3.2" fill="#2a1a00"/><path d="M6.75 0.6 V12.4" stroke="#c98a00" stroke-width="0.45"/><circle cx="3.6" cy="2.3" r="1.15" fill="#1a0d00"/><path d="M2.6 3.7 H4.6 L5.9 7.4 L5.2 7.6 L4.6 5.8 L5.4 9.2 H4.6 V11.6 H3.9 V9.2 H3.3 V11.6 H2.6 V9.2 H1.8 L2.6 5.8 L2 7.6 L1.3 7.4 Z" fill="#1a0d00"/><circle cx="9.9" cy="2.3" r="1.15" fill="#1a0d00"/><path d="M8.3 3.7 H11.5 Q12.1 3.7 12.1 4.4 V7.8 H11.4 V5 H11.2 V11.6 H10.1 V8 H9.7 V11.6 H8.6 V5 H8.4 V7.8 H7.7 V4.4 Q7.7 3.7 8.3 3.7 Z" fill="#1a0d00"/></g>
<circle cx="514.4" cy="274.4" r="9.5" fill="#fff" stroke="#9a2434" stroke-width="0.6"/>
<text x="514.4" y="278.4" font-size="11" fill="#9a2434" text-anchor="middle" font-weight="normal">P5</text>
<circle cx="598.5" cy="265.6" r="9.5" fill="#fff" stroke="#9a2434" stroke-width="0.6"/>
<text x="598.5" y="269.6" font-size="11" fill="#9a2434" text-anchor="middle" font-weight="normal">P5</text>
<circle cx="478.5" cy="325.6" r="9.5" fill="#fff" stroke="#86287f" stroke-width="0.6"/>
<text x="478.5" y="329.6" font-size="11" fill="#86287f" text-anchor="middle" font-weight="normal">P4</text>
<circle cx="575.5" cy="528.0" r="8.0" fill="#fff" stroke="#9c1628" stroke-width="1.25"/>
<path d="M574.5 523.5 h2.0 v3.5 h3.5 v2.0 h-3.5 v3.5 h-2.0 v-3.5 h-3.5 v-2.0 h3.5 z" fill="#e0141e"/>
<g transform="translate(491.7 545.0) scale(0.948)"><rect x="0" y="0" width="13.5" height="16.5" fill="#f4a300" stroke="#7a5200" stroke-width="0.5"/><rect x="0.8" y="12.6" width="11.9" height="3.2" fill="#2a1a00"/><path d="M6.75 0.6 V12.4" stroke="#c98a00" stroke-width="0.45"/><circle cx="3.6" cy="2.3" r="1.15" fill="#1a0d00"/><path d="M2.6 3.7 H4.6 L5.9 7.4 L5.2 7.6 L4.6 5.8 L5.4 9.2 H4.6 V11.6 H3.9 V9.2 H3.3 V11.6 H2.6 V9.2 H1.8 L2.6 5.8 L2 7.6 L1.3 7.4 Z" fill="#1a0d00"/><circle cx="9.9" cy="2.3" r="1.15" fill="#1a0d00"/><path d="M8.3 3.7 H11.5 Q12.1 3.7 12.1 4.4 V7.8 H11.4 V5 H11.2 V11.6 H10.1 V8 H9.7 V11.6 H8.6 V5 H8.4 V7.8 H7.7 V4.4 Q7.7 3.7 8.3 3.7 Z" fill="#1a0d00"/></g>
<g transform="translate(755.8 400.0) scale(0.978)"><rect x="0" y="0" width="13.5" height="16.5" fill="#f4a300" stroke="#7a5200" stroke-width="0.5"/><rect x="0.8" y="12.6" width="11.9" height="3.2" fill="#2a1a00"/><path d="M6.75 0.6 V12.4" stroke="#c98a00" stroke-width="0.45"/><circle cx="3.6" cy="2.3" r="1.15" fill="#1a0d00"/><path d="M2.6 3.7 H4.6 L5.9 7.4 L5.2 7.6 L4.6 5.8 L5.4 9.2 H4.6 V11.6 H3.9 V9.2 H3.3 V11.6 H2.6 V9.2 H1.8 L2.6 5.8 L2 7.6 L1.3 7.4 Z" fill="#1a0d00"/><circle cx="9.9" cy="2.3" r="1.15" fill="#1a0d00"/><path d="M8.3 3.7 H11.5 Q12.1 3.7 12.1 4.4 V7.8 H11.4 V5 H11.2 V11.6 H10.1 V8 H9.7 V11.6 H8.6 V5 H8.4 V7.8 H7.7 V4.4 Q7.7 3.7 8.3 3.7 Z" fill="#1a0d00"/></g>
<g transform="translate(729.0 430.5) scale(0.963)"><rect x="0" y="0" width="13.5" height="16.5" fill="#f4a300" stroke="#7a5200" stroke-width="0.5"/><rect x="0.8" y="12.6" width="11.9" height="3.2" fill="#2a1a00"/><path d="M6.75 0.6 V12.4" stroke="#c98a00" stroke-width="0.45"/><circle cx="3.6" cy="2.3" r="1.15" fill="#1a0d00"/><path d="M2.6 3.7 H4.6 L5.9 7.4 L5.2 7.6 L4.6 5.8 L5.4 9.2 H4.6 V11.6 H3.9 V9.2 H3.3 V11.6 H2.6 V9.2 H1.8 L2.6 5.8 L2 7.6 L1.3 7.4 Z" fill="#1a0d00"/><circle cx="9.9" cy="2.3" r="1.15" fill="#1a0d00"/><path d="M8.3 3.7 H11.5 Q12.1 3.7 12.1 4.4 V7.8 H11.4 V5 H11.2 V11.6 H10.1 V8 H9.7 V11.6 H8.6 V5 H8.4 V7.8 H7.7 V4.4 Q7.7 3.7 8.3 3.7 Z" fill="#1a0d00"/></g>
<g transform="translate(663.0 498.0) scale(0.978)"><rect x="0" y="0" width="13.5" height="16.5" fill="#f4a300" stroke="#7a5200" stroke-width="0.5"/><rect x="0.8" y="12.6" width="11.9" height="3.2" fill="#2a1a00"/><path d="M6.75 0.6 V12.4" stroke="#c98a00" stroke-width="0.45"/><circle cx="3.6" cy="2.3" r="1.15" fill="#1a0d00"/><path d="M2.6 3.7 H4.6 L5.9 7.4 L5.2 7.6 L4.6 5.8 L5.4 9.2 H4.6 V11.6 H3.9 V9.2 H3.3 V11.6 H2.6 V9.2 H1.8 L2.6 5.8 L2 7.6 L1.3 7.4 Z" fill="#1a0d00"/><circle cx="9.9" cy="2.3" r="1.15" fill="#1a0d00"/><path d="M8.3 3.7 H11.5 Q12.1 3.7 12.1 4.4 V7.8 H11.4 V5 H11.2 V11.6 H10.1 V8 H9.7 V11.6 H8.6 V5 H8.4 V7.8 H7.7 V4.4 Q7.7 3.7 8.3 3.7 Z" fill="#1a0d00"/></g>
<g transform="translate(1008.9 936.2)"><circle cx="0" cy="0" r="28.9" fill="#fff" stroke="#333" stroke-width="1.1"/><path d="M-0.5 -24.2 L-26.3 -8.9 L-12 -8.4 L-3 -14 V18 H3 V-14 L12 -8.4 L26.3 -8.9 Z" fill="#111"/><path d="M-26.3 -8.9 L-12 -8.4 L-3.6 -13.4 V18" fill="none" stroke="#999" stroke-width="0.9"/><path d="M26.3 -8.9 L12 -8.4 L3.6 -13.4" fill="none" stroke="#999" stroke-width="0.9"/><rect x="-2.6" y="18" width="5.2" height="10.6" fill="#fff" stroke="#666" stroke-width="0.9"/><path d="M-10.5 -31 V-49.9 H-5.6 L5.6 -37.6 V-49.9 H11.1 V-31 H6.2 L-5 -43.3 V-31 Z" fill="#fff" stroke="#333" stroke-width="3" stroke-linejoin="miter"/><path d="M-10.5 -31 V-49.9 H-5.6 L5.6 -37.6 V-49.9 H11.1 V-31 H6.2 L-5 -43.3 V-31 Z" fill="#fff" stroke="#fff" stroke-width="0.9"/></g>
</g>
<g id="text">
<text x="82.5" y="426.5" font-size="13.5" font-weight="bold" fill="#1f2b6c" textLength="62.0" lengthAdjust="spacingAndGlyphs">เส้นทางเสด็จ</text>
<text x="82.5" y="468.0" font-size="13.5" font-weight="bold" fill="#1f2b6c" textLength="107.0" lengthAdjust="spacingAndGlyphs">ลานจอดเฮลิคอปเตอร์</text>
<text x="82.5" y="503.0" font-size="13.5" font-weight="bold" fill="#1f2b6c" textLength="157.0" lengthAdjust="spacingAndGlyphs">จุดรวมตัวบัณฑิตและถ่ายภาพหมู่</text>
<text x="82.5" y="528.5" font-size="13.5" font-weight="bold" fill="#1f2b6c" textLength="69.0" lengthAdjust="spacingAndGlyphs">ทางขาเข้าหลัก</text>
<text x="82.5" y="556.0" font-size="13.5" font-weight="bold" fill="#1f2b6c" textLength="72.0" lengthAdjust="spacingAndGlyphs">ทางออก1,2,3,4</text>
<text x="82.5" y="579.2" font-size="13.5" font-weight="bold" fill="#1f2b6c" textLength="132.0" lengthAdjust="spacingAndGlyphs">จุดร้านค้าดอกไม้และอาหาร</text>
<text x="82.5" y="605.5" font-size="13.5" font-weight="bold" fill="#1f2b6c" textLength="148.0" lengthAdjust="spacingAndGlyphs">จุดจอดรถผู้บริหารและบุคลากร</text>
<text x="82.5" y="633.0" font-size="13.5" font-weight="bold" fill="#1f2b6c" textLength="95.0" lengthAdjust="spacingAndGlyphs">จุดจอดรถ VIP,VVIP</text>
<text x="82.5" y="658.0" font-size="13.5" font-weight="bold" fill="#1f2b6c" textLength="60.0" lengthAdjust="spacingAndGlyphs">จุดจอดรถP1</text>
<text x="81.5" y="684.0" font-size="13.5" font-weight="bold" fill="#1f2b6c" textLength="105.0" lengthAdjust="spacingAndGlyphs">จุดจอดรถP2 รร.สาธิต</text>
<text x="81.5" y="708.0" font-size="13.5" font-weight="bold" fill="#1f2b6c" textLength="120.0" lengthAdjust="spacingAndGlyphs">จุดจอดรถP3ข้างศูนย์วิจัย</text>
<text x="81.5" y="731.5" font-size="13.5" font-weight="bold" fill="#1f2b6c" textLength="149.0" lengthAdjust="spacingAndGlyphs">จุดจอดรถบัณฑิตและประชาชน</text>
<text x="83.5" y="755.5" font-size="13.5" font-weight="bold" fill="#1f2b6c" textLength="60.0" lengthAdjust="spacingAndGlyphs">จุดจอดรถP6</text>
<text x="80.0" y="784.0" font-size="13.5" font-weight="bold" fill="#1f2b6c" textLength="131.0" lengthAdjust="spacingAndGlyphs">จุดจอดรถP7หน้าสนามกีฬา</text>
<text x="81.5" y="810.5" font-size="13.5" font-weight="bold" fill="#1f2b6c" textLength="131.0" lengthAdjust="spacingAndGlyphs">จุดจอดรถP8รอบสนามกีฬา</text>
<text x="82.5" y="881.5" font-size="13.5" font-weight="bold" fill="#1f2b6c" textLength="76.0" lengthAdjust="spacingAndGlyphs">จุดปฐมพยาบาล</text>
<text x="83.5" y="844.5" font-size="11.5" fill="#2c3566" text-anchor="start" font-weight="normal">WC</text>
<text x="343.5" y="189.0" font-size="13.5" font-weight="bold" fill="#1f2b6c" textLength="16.3" lengthAdjust="spacingAndGlyphs">วัด</text>
<text x="453.5" y="191.0" font-size="13.5" font-weight="bold" fill="#1f2b6c" textLength="40.0" lengthAdjust="spacingAndGlyphs">ทางออก</text>
<text x="908.0" y="287.5" font-size="13.5" font-weight="bold" fill="#1f2b6c" textLength="39.5" lengthAdjust="spacingAndGlyphs">ทางออก</text>
<text x="893.0" y="558.7" font-size="13.5" font-weight="bold" fill="#1f2b6c" textLength="39.5" lengthAdjust="spacingAndGlyphs">ทางออก</text>
<text x="769.0" y="767.5" font-size="13.5" font-weight="bold" fill="#1f2b6c" textLength="39.5" lengthAdjust="spacingAndGlyphs">ทางออก</text>
<text x="243.7" y="275.5" font-size="13.5" font-weight="bold" fill="#1f2b6c" textLength="149.0" lengthAdjust="spacingAndGlyphs">จุดจอดรถผู้บริหารและบุคลากร</text>
<text x="392.0" y="330.5" font-size="13.5" font-weight="bold" fill="#fff" textLength="48.0" lengthAdjust="spacingAndGlyphs">จุดจอดรถ</text>
<text x="635.0" y="213.7" font-size="13.5" font-weight="bold" fill="#1f2b6c" textLength="81.0" lengthAdjust="spacingAndGlyphs">จุดจอดรถบัณฑิต</text>
<text x="642.0" y="232.5" font-size="13.5" font-weight="bold" fill="#1f2b6c" textLength="66.0" lengthAdjust="spacingAndGlyphs">และประชาชน</text>
<text x="746.0" y="326.0" font-size="13.5" font-weight="bold" fill="#1f2b6c" textLength="48.0" lengthAdjust="spacingAndGlyphs">จุดจอดรถ</text>
<text x="972.7" y="336.3" font-size="13.5" font-weight="bold" fill="#1f2b6c" textLength="48.0" lengthAdjust="spacingAndGlyphs">จุดจอดรถ</text>
<text x="956.0" y="349.6" font-size="13.5" font-weight="bold" fill="#1f2b6c" textLength="70.0" lengthAdjust="spacingAndGlyphs">รอบสนามกีฬา</text>
<text x="969.5" y="518.0" font-size="13.5" font-weight="bold" fill="#1f2b6c" textLength="48.0" lengthAdjust="spacingAndGlyphs">จุดจอดรถ</text>
<text x="966.0" y="532.5" font-size="13.5" font-weight="bold" fill="#1f2b6c" textLength="70.0" lengthAdjust="spacingAndGlyphs">รอบสนามกีฬา</text>
<text x="723.0" y="485.8" font-size="13.5" font-weight="bold" fill="#1f2b6c" textLength="47.0" lengthAdjust="spacingAndGlyphs">จุดจอดรถ</text>
<text x="372.5" y="436.0" font-size="13.5" font-weight="bold" fill="#1f2b6c" textLength="68.5" lengthAdjust="spacingAndGlyphs">ทางขาเข้าหลัก</text>
<text x="212.0" y="540.0" font-size="13.5" font-weight="bold" fill="#1f2b6c" textLength="75.5" lengthAdjust="spacingAndGlyphs">ทางเข้าบ้านซอง</text>
<text x="324.8" y="578.7" font-size="11.5" fill="#27306a" text-anchor="middle" font-weight="normal">P2</text>
<text x="302.0" y="588.0" font-size="13.5" font-weight="bold" fill="#1f2b6c" textLength="47.5" lengthAdjust="spacingAndGlyphs">จุดจอดรถ</text>
<text x="278.7" y="700.0" font-size="13.5" font-weight="bold" fill="#1f2b6c" textLength="149.0" lengthAdjust="spacingAndGlyphs">จุดจอดรถบัณฑิตและประชาชน</text>
<text x="522.0" y="724.0" font-size="13.5" font-weight="bold" fill="#fff" textLength="47.5" lengthAdjust="spacingAndGlyphs">จุดจอดรถ</text>
<text x="781.0" y="857.5" font-size="13.5" font-weight="bold" fill="#fff" textLength="67.7" lengthAdjust="spacingAndGlyphs">จุดจอดรถ VIP</text>
<text x="773.7" y="870.0" font-size="13.5" font-weight="bold" fill="#fff" textLength="75.8" lengthAdjust="spacingAndGlyphs">จุดจอดรถ VVIP</text>
<text x="780.0" y="661.0" font-size="13.5" font-weight="bold" fill="#1f2b6c" textLength="73.7" lengthAdjust="spacingAndGlyphs">บ้านเนินสะอาด</text>
<text x="697.5" y="533.0" font-size="13.5" font-weight="bold" fill="#1f2b6c" textLength="97.5" lengthAdjust="spacingAndGlyphs">เต็นรับรองประชาชน</text>
<text x="690.0" y="561.0" font-size="13.5" font-weight="bold" fill="#1f2b6c" textLength="89.5" lengthAdjust="spacingAndGlyphs">ซุ้มแสดงความยินดี</text>
<text transform="translate(259.6 360.2) rotate(47.0)" x="0" y="0" font-size="13.5" font-weight="bold" fill="#1f2b6c" textLength="107.3" lengthAdjust="spacingAndGlyphs">ถนนทางหลวงเส้น2011</text>
<text transform="translate(734.0 874.5) rotate(45.5)" x="0" y="0" font-size="13.5" font-weight="bold" fill="#1f2b6c" textLength="112.3" lengthAdjust="spacingAndGlyphs">ถนนทางหลวงเส้น2011</text>
<text x="432.8" y="524.8" font-size="6.9" fill="#111" text-anchor="start" font-weight="bold">ENTRANCE</text>
<path d="M427.7 519.4 l2.7 2.6 l-2.7 2.6 l-2.7 -2.6z" fill="#fff" stroke="#111" stroke-width="0.8"/>
<text x="492.5" y="290.0" font-size="13.5" font-weight="bold" fill="#fff" textLength="47.5" lengthAdjust="spacingAndGlyphs">จุดจอดรถ</text>
<text x="575.0" y="283.7" font-size="13.5" font-weight="bold" fill="#fff" textLength="48.0" lengthAdjust="spacingAndGlyphs">จุดจอดรถ</text>
<text x="562.5" y="655.3" font-size="9.5" font-weight="bold" fill="#111" textLength="36.0" lengthAdjust="spacingAndGlyphs">หอประชุม</text>
<text x="490.0" y="490.3" font-size="8.2" font-weight="bold" fill="#3350b8" textLength="90.0" lengthAdjust="spacingAndGlyphs">จุดจำหน่ายอาหารและเครื่องดื่ม</text>
<text x="444.5" y="509.0" font-size="8.2" font-weight="bold" fill="#3350b8" textLength="39.5" lengthAdjust="spacingAndGlyphs">ร้านค้าดอกไม้</text>
<text x="535.0" y="505.3" font-size="8.2" font-weight="bold" fill="#3350b8" textLength="43.7" lengthAdjust="spacingAndGlyphs">จุดปฐมพยาบาล</text>
</g></svg>
</body></html>
